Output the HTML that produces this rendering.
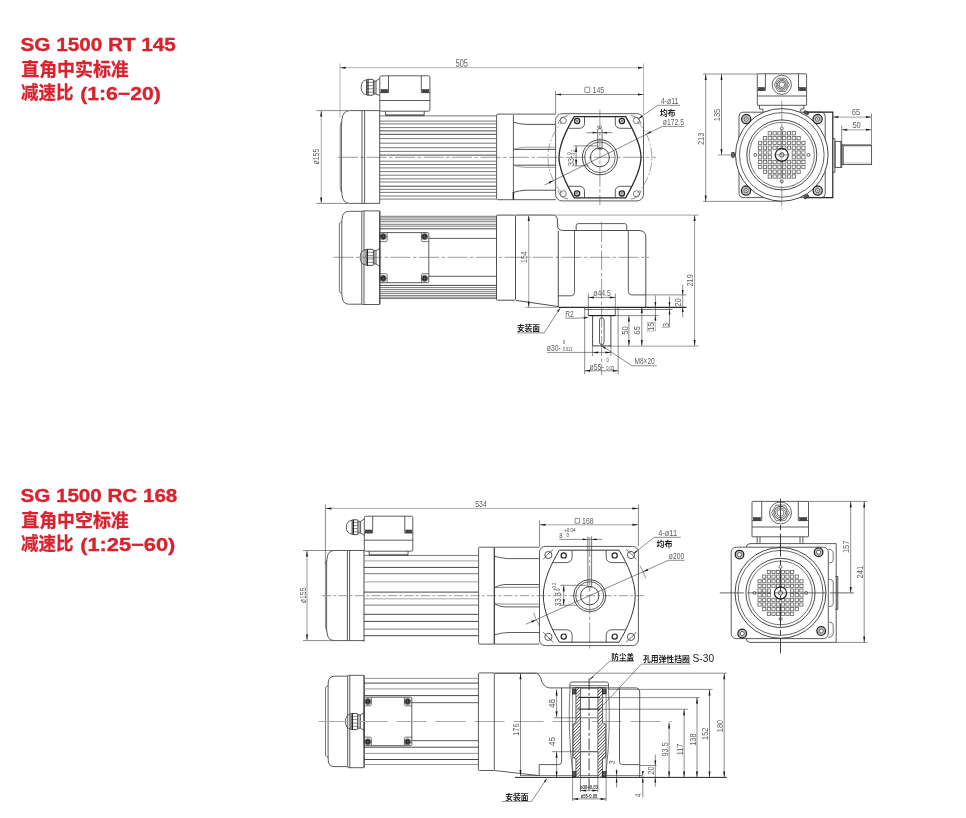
<!DOCTYPE html>
<html><head><meta charset="utf-8"><title>SG 1500</title>
<style>
html,body{margin:0;padding:0;background:#fff;}
body{width:966px;height:818px;overflow:hidden;font-family:"Liberation Sans",sans-serif;}
svg{display:block;font-family:"Liberation Sans",sans-serif;}
</style></head><body>
<svg width="966" height="818" viewBox="0 0 966 818">
<rect width="966" height="818" fill="#fff"/>
<g opacity="0.999">
<text x="20.5" y="50.699999999999996" font-size="19" font-weight="bold" fill="#d8232f" textLength="155.4" lengthAdjust="spacingAndGlyphs" stroke="#d8232f" stroke-width="0.35">SG 1500 RT 145</text>
<text x="21.3" y="75.6" font-size="18" font-weight="bold" fill="#d8232f" stroke="#d8232f" stroke-width="0.3" textLength="107.4" lengthAdjust="spacingAndGlyphs" font-family="&quot;Liberation Sans&quot;, &quot;Noto Sans CJK SC&quot;, sans-serif">直角中实标准</text>
<text x="21" y="99.4" font-size="18" font-weight="bold" fill="#d8232f" stroke="#d8232f" stroke-width="0.3" textLength="52.4" lengthAdjust="spacingAndGlyphs" font-family="&quot;Liberation Sans&quot;, &quot;Noto Sans CJK SC&quot;, sans-serif">减速比</text>
<text x="80.2" y="99.6" font-size="19" font-weight="bold" fill="#d8232f" textLength="80.6" lengthAdjust="spacingAndGlyphs" stroke="#d8232f" stroke-width="0.35">(1:6−20)</text>
<line x1="340" y1="63.5" x2="340" y2="118" stroke="#b4b4b4" stroke-width="1"/>
<line x1="643.6" y1="63.5" x2="643.6" y2="114" stroke="#b4b4b4" stroke-width="1"/>
<line x1="340" y1="67.7" x2="643.6" y2="67.7" stroke="#b4b4b4" stroke-width="1"/>
<path d="M340,67.7L345.6,66.7L345.6,68.7Z" fill="#111"/>
<path d="M643.6,67.7L638,68.7L638,66.7Z" fill="#111"/>
<text transform="translate(461.8,66.9) scale(0.68,1)" font-size="10.8" text-anchor="middle" fill="#5e5e5e" font-weight="normal">505</text>
<line x1="316.5" y1="110.6" x2="348" y2="110.6" stroke="#3e3e3e" stroke-width="0.6"/>
<line x1="316.5" y1="203.4" x2="348" y2="203.4" stroke="#3e3e3e" stroke-width="0.6"/>
<line x1="321.2" y1="110.6" x2="321.2" y2="203.4" stroke="#aaa" stroke-width="1"/>
<path d="M321.2,110.6L322.2,116.6L320.2,116.6Z" fill="#1a1a1a"/>
<path d="M321.2,203.4L320.2,197.4L322.2,197.4Z" fill="#1a1a1a"/>
<text transform="translate(319.4,156.6) rotate(-90) scale(0.8,1)" font-size="8.7" text-anchor="middle" fill="#5e5e5e" font-weight="normal">ø155</text>
<path d="M362,110.6 L349.5,110.6 Q342.6,111.2 342,119 L341.4,126 L341.4,188 L342,195 Q342.6,202.8 349.5,203.4 L362,203.4" stroke="#3e3e3e" stroke-width="0.85" fill="none"/>
<path d="M341.4,122 Q340.2,124 340.2,128 L340.2,186 Q340.2,190 341.4,192" stroke="#3e3e3e" stroke-width="0.6" fill="none"/>
<line x1="362" y1="110.6" x2="362" y2="203.4" stroke="#3e3e3e" stroke-width="0.85"/>
<line x1="364.6" y1="110.6" x2="364.6" y2="203.4" stroke="#3e3e3e" stroke-width="0.85"/>
<path d="M362,110.6 L379.7,110.6 M362,203.4 L379.7,203.4" stroke="#3e3e3e" stroke-width="0.85" fill="none"/>
<line x1="379.7" y1="110.6" x2="379.7" y2="203.4" stroke="#3e3e3e" stroke-width="0.9"/>
<line x1="379.7" y1="115.9" x2="496.5" y2="115.9" stroke="#6a6a6a" stroke-width="0.9"/>
<line x1="379.7" y1="121.1" x2="496.5" y2="121.1" stroke="#6a6a6a" stroke-width="0.9"/>
<line x1="379.7" y1="123.9" x2="496.5" y2="123.9" stroke="#6a6a6a" stroke-width="0.9"/>
<line x1="379.7" y1="127.6" x2="496.5" y2="127.6" stroke="#6a6a6a" stroke-width="0.9"/>
<line x1="379.7" y1="138.6" x2="496.5" y2="138.6" stroke="#6a6a6a" stroke-width="0.9"/>
<line x1="379.7" y1="143.2" x2="496.5" y2="143.2" stroke="#6a6a6a" stroke-width="0.9"/>
<line x1="379.7" y1="147.7" x2="496.5" y2="147.7" stroke="#6a6a6a" stroke-width="0.9"/>
<line x1="379.7" y1="151.4" x2="496.5" y2="151.4" stroke="#6a6a6a" stroke-width="0.9"/>
<line x1="379.7" y1="161.2" x2="496.5" y2="161.2" stroke="#6a6a6a" stroke-width="0.9"/>
<line x1="379.7" y1="164.5" x2="496.5" y2="164.5" stroke="#6a6a6a" stroke-width="0.9"/>
<line x1="379.7" y1="167.9" x2="496.5" y2="167.9" stroke="#6a6a6a" stroke-width="0.9"/>
<line x1="379.7" y1="171.6" x2="496.5" y2="171.6" stroke="#6a6a6a" stroke-width="0.9"/>
<line x1="379.7" y1="175.2" x2="496.5" y2="175.2" stroke="#6a6a6a" stroke-width="0.9"/>
<line x1="379.7" y1="178.9" x2="496.5" y2="178.9" stroke="#6a6a6a" stroke-width="0.9"/>
<line x1="379.7" y1="182" x2="496.5" y2="182" stroke="#6a6a6a" stroke-width="0.9"/>
<line x1="379.7" y1="189.3" x2="496.5" y2="189.3" stroke="#6a6a6a" stroke-width="0.9"/>
<line x1="379.7" y1="192.4" x2="496.5" y2="192.4" stroke="#6a6a6a" stroke-width="0.9"/>
<line x1="379.7" y1="196" x2="496.5" y2="196" stroke="#6a6a6a" stroke-width="0.9"/>
<line x1="379.7" y1="199.1" x2="496.5" y2="199.1" stroke="#6a6a6a" stroke-width="0.9"/>
<line x1="379.7" y1="130.9" x2="496.5" y2="130.9" stroke="#333" stroke-width="0.9"/>
<line x1="379.7" y1="134.3" x2="496.5" y2="134.3" stroke="#333" stroke-width="0.9"/>
<line x1="379.7" y1="155.1" x2="496.5" y2="155.1" stroke="#333" stroke-width="0.9"/>
<line x1="379.7" y1="186.2" x2="496.5" y2="186.2" stroke="#333" stroke-width="0.9"/>
<rect x="379.8" y="75.8" width="50.1" height="35.4" rx="1.5" stroke="#3e3e3e" stroke-width="0.85" fill="none"/>
<line x1="379.8" y1="100.5" x2="429.9" y2="100.5" stroke="#3e3e3e" stroke-width="0.85"/>
<line x1="388.5" y1="75.8" x2="388.5" y2="92.6" stroke="#3e3e3e" stroke-width="0.85"/>
<line x1="421.3" y1="75.8" x2="421.3" y2="92.6" stroke="#3e3e3e" stroke-width="0.85"/>
<line x1="380" y1="92.6" x2="388.5" y2="92.6" stroke="#3e3e3e" stroke-width="0.85"/>
<line x1="421.3" y1="92.6" x2="429.9" y2="92.6" stroke="#3e3e3e" stroke-width="0.85"/>
<rect x="381" y="89.6" width="6.6" height="2.8" rx="0" stroke="#333" stroke-width="0.6" fill="#444"/>
<rect x="422.2" y="89.6" width="6.6" height="2.8" rx="0" stroke="#333" stroke-width="0.6" fill="#444"/>
<path d="M385.6,111.2 L385.6,115.6 L424.2,115.6 L424.2,111.2" stroke="#3e3e3e" stroke-width="0.85" fill="none"/>
<line x1="385.6" y1="114.6" x2="424.2" y2="114.6" stroke="#3e3e3e" stroke-width="0.6"/>
<path d="M366.6,79.8 Q361.2,80.5 361.2,87.2 Q361.2,94 366.6,94.8" stroke="#3e3e3e" stroke-width="0.85" fill="none"/>
<rect x="366.6" y="79.4" width="6.8" height="15.8" rx="0.8" stroke="#333" stroke-width="0.9" fill="none"/>
<line x1="366.6" y1="82.4" x2="373.4" y2="82.4" stroke="#3e3e3e" stroke-width="0.6"/>
<line x1="366.6" y1="85.6" x2="373.4" y2="85.6" stroke="#3e3e3e" stroke-width="0.6"/>
<line x1="366.6" y1="88.8" x2="373.4" y2="88.8" stroke="#3e3e3e" stroke-width="0.6"/>
<line x1="366.6" y1="92.2" x2="373.4" y2="92.2" stroke="#3e3e3e" stroke-width="0.6"/>
<line x1="368" y1="79.4" x2="368" y2="95.2" stroke="#222" stroke-width="1.2"/>
<path d="M373.4,81 L376,81 L379.8,78.5 M373.4,94 L376,94 L379.8,95.5" stroke="#3e3e3e" stroke-width="0.85" fill="none"/>
<line x1="376" y1="81" x2="376" y2="94" stroke="#3e3e3e" stroke-width="0.85"/>
<line x1="374.6" y1="81" x2="374.6" y2="94" stroke="#3e3e3e" stroke-width="0.6"/>
<line x1="338" y1="157.3" x2="656" y2="157.3" stroke="#555" stroke-width="0.6" stroke-dasharray="20 2.5 3.5 2.5"/>
<rect x="496.6" y="114.1" width="16.8" height="85.6" rx="1" stroke="#3e3e3e" stroke-width="0.85" fill="none"/>
<line x1="513.4" y1="114.1" x2="555.7" y2="114.1" stroke="#3e3e3e" stroke-width="0.85"/>
<line x1="513.4" y1="199.7" x2="555.7" y2="199.7" stroke="#3e3e3e" stroke-width="0.85"/>
<path d="M513.4,122.2 Q519,124 526,124.4 L555.7,124.4" stroke="#3e3e3e" stroke-width="0.9" fill="none"/>
<path d="M513.4,192.4 Q519,190.6 526,190.2 L555.7,190.2" stroke="#3e3e3e" stroke-width="0.9" fill="none"/>
<line x1="513.4" y1="149.4" x2="555.7" y2="149.4" stroke="#3a3a3a" stroke-width="0.9"/>
<path d="M513.4,149.4 Q519,147.4 526,147.2 L555.7,147.2" stroke="#777" stroke-width="0.7" fill="none"/>
<line x1="513.4" y1="165.2" x2="555.7" y2="165.2" stroke="#3a3a3a" stroke-width="0.9"/>
<path d="M513.4,165.2 Q519,167.2 526,167.4 L555.7,167.4" stroke="#777" stroke-width="0.7" fill="none"/>
<line x1="513.4" y1="192" x2="513.4" y2="199.7" stroke="#222" stroke-width="1.4"/>
<rect x="555.6" y="113.7" width="87.9" height="87.2" rx="6.5" stroke="#3e3e3e" stroke-width="0.85" fill="none"/>
<path d="M574.2,116.7 L625.6,116.7 C634,131 641,145 641,157.3 C641,169.6 634,183.5 625.6,197.9 L574.2,197.9 C565.8,183.5 559,169.6 559,157.3 C559,145 565.8,131 574.2,116.7 Z" stroke="#2a2a2a" stroke-width="1.3" fill="none"/>
<path d="M584.5,116.7 L584.5,123.5 Q584.3,128.2 579.5,128.3 L568.3,128.3" stroke="#3e3e3e" stroke-width="0.85" fill="none"/>
<path d="M615.3,116.7 L615.3,123.5 Q615.5,128.2 620.3,128.3 L631.5,128.3" stroke="#3e3e3e" stroke-width="0.85" fill="none"/>
<path d="M584.5,197.9 L584.5,191.1 Q584.3,186.4 579.5,186.3 L568.3,186.3" stroke="#3e3e3e" stroke-width="0.85" fill="none"/>
<path d="M615.3,197.9 L615.3,191.1 Q615.5,186.4 620.3,186.3 L631.5,186.3" stroke="#3e3e3e" stroke-width="0.85" fill="none"/>
<circle cx="577.1" cy="121" r="2.6" stroke="#222" stroke-width="1.3" fill="none"/>
<circle cx="577.1" cy="121" r="0.9" stroke="#333" stroke-width="0.7" fill="none"/>
<circle cx="621.9" cy="121" r="2.6" stroke="#222" stroke-width="1.3" fill="none"/>
<circle cx="621.9" cy="121" r="0.9" stroke="#333" stroke-width="0.7" fill="none"/>
<circle cx="577.1" cy="193.4" r="2.6" stroke="#222" stroke-width="1.3" fill="none"/>
<circle cx="577.1" cy="193.4" r="0.9" stroke="#333" stroke-width="0.7" fill="none"/>
<circle cx="621.9" cy="193.4" r="2.6" stroke="#222" stroke-width="1.3" fill="none"/>
<circle cx="621.9" cy="193.4" r="0.9" stroke="#333" stroke-width="0.7" fill="none"/>
<circle cx="563.2" cy="120.5" r="3.1" stroke="#3e3e3e" stroke-width="0.7" fill="none"/>
<circle cx="636.4" cy="120.5" r="3.1" stroke="#3e3e3e" stroke-width="0.7" fill="none"/>
<circle cx="563.2" cy="193.8" r="3.1" stroke="#3e3e3e" stroke-width="0.7" fill="none"/>
<circle cx="636.4" cy="193.8" r="3.1" stroke="#3e3e3e" stroke-width="0.7" fill="none"/>
<path d="M558,124 Q560,116.5 568,115.6" stroke="#3e3e3e" stroke-width="0.6" fill="none"/>
<path d="M641.2,124 Q639,116.5 631,115.6" stroke="#3e3e3e" stroke-width="0.6" fill="none"/>
<path d="M558,190.5 Q560,198 568,199" stroke="#3e3e3e" stroke-width="0.6" fill="none"/>
<path d="M641.2,190.5 Q639,198 631,199" stroke="#3e3e3e" stroke-width="0.6" fill="none"/>
<circle cx="599.9" cy="157.3" r="17.5" stroke="#333" stroke-width="0.9" fill="none"/>
<circle cx="599.9" cy="157.3" r="15.3" stroke="#3e3e3e" stroke-width="0.8" fill="none"/>
<circle cx="599.9" cy="157.3" r="9.5" stroke="#333" stroke-width="0.9" fill="none"/>
<path d="M597.7,148.2 L597.7,129.5 Q599.9,127 602.1,129.5 L602.1,148.2" stroke="#3e3e3e" stroke-width="0.7" fill="none"/>
<line x1="597.7" y1="148.8" x2="602.1" y2="148.8" stroke="#333" stroke-width="1.2"/>
<line x1="586.4" y1="132.7" x2="612.6" y2="132.7" stroke="#3e3e3e" stroke-width="0.6"/>
<path d="M597.7,132.7L592.7,133.6L592.7,131.8Z" fill="#1a1a1a"/>
<path d="M602.1,132.7L607.1,131.8L607.1,133.6Z" fill="#1a1a1a"/>
<text transform="translate(601.6,128.5) rotate(-90) scale(0.87,1)" font-size="6.5" text-anchor="start" fill="#5e5e5e" font-weight="normal">8</text>
<path d="M637.23,121.25 A51.9,51.9 0 0 1 637.23,193.35" stroke="#666" stroke-width="0.6" fill="none" stroke-dasharray="9 2 2 2"/>
<path d="M562.57,193.35 A51.9,51.9 0 0 1 562.57,121.25" stroke="#666" stroke-width="0.6" fill="none" stroke-dasharray="9 2 2 2"/>
<line x1="599.9" y1="109.5" x2="599.9" y2="205" stroke="#555" stroke-width="0.6" stroke-dasharray="20 2.5 3.5 2.5"/>
<line x1="544.5" y1="185" x2="662.3" y2="126.4" stroke="#3e3e3e" stroke-width="0.6"/>
<line x1="662.3" y1="126.4" x2="684.4" y2="126.4" stroke="#3e3e3e" stroke-width="0.6"/>
<path d="M646.3,134.1L650.32,130.97L651.22,132.76Z" fill="#1a1a1a"/>
<path d="M553.5,180.5L549.48,183.63L548.58,181.84Z" fill="#1a1a1a"/>
<text transform="translate(673.4,125.3) scale(0.78,1)" font-size="8.8" text-anchor="middle" fill="#5e5e5e" font-weight="normal">ø172.5</text>
<line x1="638.6" y1="118.6" x2="657.9" y2="105.3" stroke="#3e3e3e" stroke-width="0.6"/>
<line x1="657.9" y1="105.3" x2="680" y2="105.3" stroke="#3e3e3e" stroke-width="0.6"/>
<path d="M638.4,118.8L641.65,115.59L642.56,116.9Z" fill="#1a1a1a"/>
<text transform="translate(669.6,104.3) scale(0.8,1)" font-size="8.8" text-anchor="middle" fill="#5e5e5e" font-weight="normal">4-ø11</text>
<text x="659.9" y="116.2" font-size="7.8" font-weight="bold" fill="#1a1a1a" textLength="15.6" lengthAdjust="spacingAndGlyphs" font-family="&quot;Liberation Sans&quot;, &quot;Noto Sans CJK SC&quot;, sans-serif">均布</text>
<line x1="555.6" y1="91" x2="555.6" y2="113.7" stroke="#3e3e3e" stroke-width="0.6"/>
<line x1="555.6" y1="94.5" x2="643.5" y2="94.5" stroke="#3e3e3e" stroke-width="0.6"/>
<path d="M555.6,94.5L561.1,93.5L561.1,95.5Z" fill="#1a1a1a"/>
<path d="M643.5,94.5L638,95.5L638,93.5Z" fill="#1a1a1a"/>
<rect x="584.8" y="87.2" width="5" height="5.2" rx="0.5" stroke="#3e3e3e" stroke-width="0.6" fill="none"/>
<text transform="translate(598.4,92.5) scale(0.85,1)" font-size="8.2" text-anchor="middle" fill="#5e5e5e" font-weight="normal">145</text>
<line x1="573.4" y1="145.9" x2="598.4" y2="145.9" stroke="#3e3e3e" stroke-width="0.6"/>
<line x1="573.4" y1="165.8" x2="588.4" y2="165.8" stroke="#3e3e3e" stroke-width="0.6"/>
<line x1="576.1" y1="145.9" x2="576.1" y2="165.8" stroke="#3e3e3e" stroke-width="0.6"/>
<path d="M576.1,145.9L577.1,151.9L575.1,151.9Z" fill="#1a1a1a"/>
<path d="M576.1,165.8L575.1,159.8L577.1,159.8Z" fill="#1a1a1a"/>
<text transform="translate(574.2,165.9) rotate(-90) scale(0.85,1)" font-size="8.4" text-anchor="start" fill="#666" font-weight="normal">33-</text>
<text transform="translate(570.6,154.8) rotate(-90) scale(0.85,1)" font-size="5" text-anchor="start" fill="#555" font-weight="normal">0</text>
<text transform="translate(574.6,155.6) rotate(-90) scale(0.85,1)" font-size="5" text-anchor="start" fill="#555" font-weight="normal">0.2</text>
<line x1="703" y1="74" x2="757.3" y2="74" stroke="#3e3e3e" stroke-width="0.6"/>
<line x1="703" y1="201.4" x2="781.8" y2="201.4" stroke="#3e3e3e" stroke-width="0.6"/>
<line x1="705.7" y1="74" x2="705.7" y2="201.4" stroke="#3e3e3e" stroke-width="0.6"/>
<path d="M705.7,74L706.7,80L704.7,80Z" fill="#1a1a1a"/>
<path d="M705.7,201.4L704.7,195.4L706.7,195.4Z" fill="#1a1a1a"/>
<text transform="translate(703.8,138.8) rotate(-90) scale(0.87,1)" font-size="8.7" text-anchor="middle" fill="#5e5e5e" font-weight="normal">213</text>
<line x1="721.5" y1="74" x2="721.5" y2="154.9" stroke="#3e3e3e" stroke-width="0.6"/>
<path d="M721.5,74L722.5,80L720.5,80Z" fill="#1a1a1a"/>
<path d="M721.5,154.9L720.5,148.9L722.5,148.9Z" fill="#1a1a1a"/>
<line x1="718" y1="154.9" x2="760" y2="154.9" stroke="#555" stroke-width="0.6" stroke-dasharray="20 2.5 3.5 2.5"/>
<text transform="translate(719.6,115) rotate(-90) scale(0.87,1)" font-size="8.7" text-anchor="middle" fill="#5e5e5e" font-weight="normal">135</text>
<rect x="757.3" y="73.8" width="49.3" height="31.5" rx="0.5" stroke="#3e3e3e" stroke-width="0.85" fill="none"/>
<line x1="757.3" y1="96" x2="806.6" y2="96" stroke="#3e3e3e" stroke-width="0.85"/>
<line x1="765.4" y1="73.8" x2="765.4" y2="90.4" stroke="#3e3e3e" stroke-width="0.85"/>
<line x1="798.5" y1="73.8" x2="798.5" y2="90.4" stroke="#3e3e3e" stroke-width="0.85"/>
<line x1="757.3" y1="90.4" x2="765.4" y2="90.4" stroke="#3e3e3e" stroke-width="0.85"/>
<line x1="798.5" y1="90.4" x2="806.6" y2="90.4" stroke="#3e3e3e" stroke-width="0.85"/>
<rect x="758.4" y="87.6" width="6" height="2.6" rx="0" stroke="#333" stroke-width="0.6" fill="#444"/>
<rect x="799.5" y="87.6" width="6" height="2.6" rx="0" stroke="#333" stroke-width="0.6" fill="#444"/>
<path d="M759.5,105.3 L759.5,109 L762.9,109 L762.9,111.8 M803.9,105.3 L803.9,109 L800.8,109 L800.8,111.8" stroke="#3e3e3e" stroke-width="0.85" fill="none"/>
<circle cx="781.8" cy="84.8" r="9.6" stroke="#3e3e3e" stroke-width="0.8" fill="none"/>
<polygon points="789.4,84.8 785.6,91.38 778,91.38 774.2,84.8 778,78.22 785.6,78.22" fill="none" stroke="#3e3e3e" stroke-width="0.7"/>
<circle cx="781.8" cy="84.8" r="5.6" stroke="#3e3e3e" stroke-width="0.7" fill="none"/>
<circle cx="781.8" cy="84.8" r="4.2" stroke="#333" stroke-width="0.9" fill="none"/>
<circle cx="781.8" cy="84.8" r="2.8" stroke="#3e3e3e" stroke-width="0.7" fill="none"/>
<path d="M806.6,112.2 L832.8,112.2 L832.8,197.6 L806.6,197.6" stroke="#222" stroke-width="1.2" fill="none"/>
<rect x="739" y="112.2" width="86.2" height="85.4" rx="4" stroke="#3e3e3e" stroke-width="0.85" fill="none"/>
<circle cx="781.8" cy="154.9" r="46.3" stroke="#333" stroke-width="0.9" fill="#fff"/>
<circle cx="781.8" cy="154.9" r="42.3" stroke="#3e3e3e" stroke-width="0.8" fill="none"/>
<circle cx="781.8" cy="154.9" r="35" stroke="#333" stroke-width="0.9" fill="none"/>
<circle cx="781.8" cy="154.9" r="32.6" stroke="#3e3e3e" stroke-width="0.7" fill="none"/>
<rect x="768.15" y="131.65" width="3.3" height="3.3" rx="0" stroke="#606060" stroke-width="0.8" fill="none"/>
<rect x="772.95" y="131.65" width="3.3" height="3.3" rx="0" stroke="#606060" stroke-width="0.8" fill="none"/>
<rect x="777.75" y="131.65" width="3.3" height="3.3" rx="0" stroke="#606060" stroke-width="0.8" fill="none"/>
<rect x="782.55" y="131.65" width="3.3" height="3.3" rx="0" stroke="#606060" stroke-width="0.8" fill="none"/>
<rect x="787.35" y="131.65" width="3.3" height="3.3" rx="0" stroke="#606060" stroke-width="0.8" fill="none"/>
<rect x="792.15" y="131.65" width="3.3" height="3.3" rx="0" stroke="#606060" stroke-width="0.8" fill="none"/>
<rect x="763.35" y="136.45" width="3.3" height="3.3" rx="0" stroke="#606060" stroke-width="0.8" fill="none"/>
<rect x="768.15" y="136.45" width="3.3" height="3.3" rx="0" stroke="#606060" stroke-width="0.8" fill="none"/>
<rect x="772.95" y="136.45" width="3.3" height="3.3" rx="0" stroke="#606060" stroke-width="0.8" fill="none"/>
<rect x="777.75" y="136.45" width="3.3" height="3.3" rx="0" stroke="#606060" stroke-width="0.8" fill="none"/>
<rect x="782.55" y="136.45" width="3.3" height="3.3" rx="0" stroke="#606060" stroke-width="0.8" fill="none"/>
<rect x="787.35" y="136.45" width="3.3" height="3.3" rx="0" stroke="#606060" stroke-width="0.8" fill="none"/>
<rect x="792.15" y="136.45" width="3.3" height="3.3" rx="0" stroke="#606060" stroke-width="0.8" fill="none"/>
<rect x="796.95" y="136.45" width="3.3" height="3.3" rx="0" stroke="#606060" stroke-width="0.8" fill="none"/>
<rect x="758.55" y="141.25" width="3.3" height="3.3" rx="0" stroke="#606060" stroke-width="0.8" fill="none"/>
<rect x="763.35" y="141.25" width="3.3" height="3.3" rx="0" stroke="#606060" stroke-width="0.8" fill="none"/>
<rect x="768.15" y="141.25" width="3.3" height="3.3" rx="0" stroke="#606060" stroke-width="0.8" fill="none"/>
<rect x="772.95" y="141.25" width="3.3" height="3.3" rx="0" stroke="#606060" stroke-width="0.8" fill="none"/>
<rect x="777.75" y="141.25" width="3.3" height="3.3" rx="0" stroke="#606060" stroke-width="0.8" fill="none"/>
<rect x="782.55" y="141.25" width="3.3" height="3.3" rx="0" stroke="#606060" stroke-width="0.8" fill="none"/>
<rect x="787.35" y="141.25" width="3.3" height="3.3" rx="0" stroke="#606060" stroke-width="0.8" fill="none"/>
<rect x="792.15" y="141.25" width="3.3" height="3.3" rx="0" stroke="#606060" stroke-width="0.8" fill="none"/>
<rect x="796.95" y="141.25" width="3.3" height="3.3" rx="0" stroke="#606060" stroke-width="0.8" fill="none"/>
<rect x="801.75" y="141.25" width="3.3" height="3.3" rx="0" stroke="#606060" stroke-width="0.8" fill="none"/>
<rect x="758.55" y="146.05" width="3.3" height="3.3" rx="0" stroke="#606060" stroke-width="0.8" fill="none"/>
<rect x="763.35" y="146.05" width="3.3" height="3.3" rx="0" stroke="#606060" stroke-width="0.8" fill="none"/>
<rect x="768.15" y="146.05" width="3.3" height="3.3" rx="0" stroke="#606060" stroke-width="0.8" fill="none"/>
<rect x="772.95" y="146.05" width="3.3" height="3.3" rx="0" stroke="#606060" stroke-width="0.8" fill="none"/>
<rect x="777.75" y="146.05" width="3.3" height="3.3" rx="0" stroke="#606060" stroke-width="0.8" fill="none"/>
<rect x="782.55" y="146.05" width="3.3" height="3.3" rx="0" stroke="#606060" stroke-width="0.8" fill="none"/>
<rect x="787.35" y="146.05" width="3.3" height="3.3" rx="0" stroke="#606060" stroke-width="0.8" fill="none"/>
<rect x="792.15" y="146.05" width="3.3" height="3.3" rx="0" stroke="#606060" stroke-width="0.8" fill="none"/>
<rect x="796.95" y="146.05" width="3.3" height="3.3" rx="0" stroke="#606060" stroke-width="0.8" fill="none"/>
<rect x="801.75" y="146.05" width="3.3" height="3.3" rx="0" stroke="#606060" stroke-width="0.8" fill="none"/>
<rect x="758.55" y="150.85" width="3.3" height="3.3" rx="0" stroke="#606060" stroke-width="0.8" fill="none"/>
<rect x="763.35" y="150.85" width="3.3" height="3.3" rx="0" stroke="#606060" stroke-width="0.8" fill="none"/>
<rect x="768.15" y="150.85" width="3.3" height="3.3" rx="0" stroke="#606060" stroke-width="0.8" fill="none"/>
<rect x="792.15" y="150.85" width="3.3" height="3.3" rx="0" stroke="#606060" stroke-width="0.8" fill="none"/>
<rect x="796.95" y="150.85" width="3.3" height="3.3" rx="0" stroke="#606060" stroke-width="0.8" fill="none"/>
<rect x="801.75" y="150.85" width="3.3" height="3.3" rx="0" stroke="#606060" stroke-width="0.8" fill="none"/>
<rect x="758.55" y="155.65" width="3.3" height="3.3" rx="0" stroke="#606060" stroke-width="0.8" fill="none"/>
<rect x="763.35" y="155.65" width="3.3" height="3.3" rx="0" stroke="#606060" stroke-width="0.8" fill="none"/>
<rect x="768.15" y="155.65" width="3.3" height="3.3" rx="0" stroke="#606060" stroke-width="0.8" fill="none"/>
<rect x="792.15" y="155.65" width="3.3" height="3.3" rx="0" stroke="#606060" stroke-width="0.8" fill="none"/>
<rect x="796.95" y="155.65" width="3.3" height="3.3" rx="0" stroke="#606060" stroke-width="0.8" fill="none"/>
<rect x="801.75" y="155.65" width="3.3" height="3.3" rx="0" stroke="#606060" stroke-width="0.8" fill="none"/>
<rect x="758.55" y="160.45" width="3.3" height="3.3" rx="0" stroke="#606060" stroke-width="0.8" fill="none"/>
<rect x="763.35" y="160.45" width="3.3" height="3.3" rx="0" stroke="#606060" stroke-width="0.8" fill="none"/>
<rect x="768.15" y="160.45" width="3.3" height="3.3" rx="0" stroke="#606060" stroke-width="0.8" fill="none"/>
<rect x="772.95" y="160.45" width="3.3" height="3.3" rx="0" stroke="#606060" stroke-width="0.8" fill="none"/>
<rect x="777.75" y="160.45" width="3.3" height="3.3" rx="0" stroke="#606060" stroke-width="0.8" fill="none"/>
<rect x="782.55" y="160.45" width="3.3" height="3.3" rx="0" stroke="#606060" stroke-width="0.8" fill="none"/>
<rect x="787.35" y="160.45" width="3.3" height="3.3" rx="0" stroke="#606060" stroke-width="0.8" fill="none"/>
<rect x="792.15" y="160.45" width="3.3" height="3.3" rx="0" stroke="#606060" stroke-width="0.8" fill="none"/>
<rect x="796.95" y="160.45" width="3.3" height="3.3" rx="0" stroke="#606060" stroke-width="0.8" fill="none"/>
<rect x="801.75" y="160.45" width="3.3" height="3.3" rx="0" stroke="#606060" stroke-width="0.8" fill="none"/>
<rect x="758.55" y="165.25" width="3.3" height="3.3" rx="0" stroke="#606060" stroke-width="0.8" fill="none"/>
<rect x="763.35" y="165.25" width="3.3" height="3.3" rx="0" stroke="#606060" stroke-width="0.8" fill="none"/>
<rect x="768.15" y="165.25" width="3.3" height="3.3" rx="0" stroke="#606060" stroke-width="0.8" fill="none"/>
<rect x="772.95" y="165.25" width="3.3" height="3.3" rx="0" stroke="#606060" stroke-width="0.8" fill="none"/>
<rect x="777.75" y="165.25" width="3.3" height="3.3" rx="0" stroke="#606060" stroke-width="0.8" fill="none"/>
<rect x="782.55" y="165.25" width="3.3" height="3.3" rx="0" stroke="#606060" stroke-width="0.8" fill="none"/>
<rect x="787.35" y="165.25" width="3.3" height="3.3" rx="0" stroke="#606060" stroke-width="0.8" fill="none"/>
<rect x="792.15" y="165.25" width="3.3" height="3.3" rx="0" stroke="#606060" stroke-width="0.8" fill="none"/>
<rect x="796.95" y="165.25" width="3.3" height="3.3" rx="0" stroke="#606060" stroke-width="0.8" fill="none"/>
<rect x="801.75" y="165.25" width="3.3" height="3.3" rx="0" stroke="#606060" stroke-width="0.8" fill="none"/>
<rect x="763.35" y="170.05" width="3.3" height="3.3" rx="0" stroke="#606060" stroke-width="0.8" fill="none"/>
<rect x="768.15" y="170.05" width="3.3" height="3.3" rx="0" stroke="#606060" stroke-width="0.8" fill="none"/>
<rect x="772.95" y="170.05" width="3.3" height="3.3" rx="0" stroke="#606060" stroke-width="0.8" fill="none"/>
<rect x="777.75" y="170.05" width="3.3" height="3.3" rx="0" stroke="#606060" stroke-width="0.8" fill="none"/>
<rect x="782.55" y="170.05" width="3.3" height="3.3" rx="0" stroke="#606060" stroke-width="0.8" fill="none"/>
<rect x="787.35" y="170.05" width="3.3" height="3.3" rx="0" stroke="#606060" stroke-width="0.8" fill="none"/>
<rect x="792.15" y="170.05" width="3.3" height="3.3" rx="0" stroke="#606060" stroke-width="0.8" fill="none"/>
<rect x="796.95" y="170.05" width="3.3" height="3.3" rx="0" stroke="#606060" stroke-width="0.8" fill="none"/>
<rect x="768.15" y="174.85" width="3.3" height="3.3" rx="0" stroke="#606060" stroke-width="0.8" fill="none"/>
<rect x="772.95" y="174.85" width="3.3" height="3.3" rx="0" stroke="#606060" stroke-width="0.8" fill="none"/>
<rect x="777.75" y="174.85" width="3.3" height="3.3" rx="0" stroke="#606060" stroke-width="0.8" fill="none"/>
<rect x="782.55" y="174.85" width="3.3" height="3.3" rx="0" stroke="#606060" stroke-width="0.8" fill="none"/>
<rect x="787.35" y="174.85" width="3.3" height="3.3" rx="0" stroke="#606060" stroke-width="0.8" fill="none"/>
<rect x="792.15" y="174.85" width="3.3" height="3.3" rx="0" stroke="#606060" stroke-width="0.8" fill="none"/>
<circle cx="781.8" cy="154.9" r="6.5" stroke="#222" stroke-width="1.2" fill="none"/>
<circle cx="781.8" cy="154.9" r="2.2" stroke="#222" stroke-width="0.8" fill="none"/>
<circle cx="781.8" cy="128.5" r="1.5" stroke="#333" stroke-width="0.7" fill="none"/>
<circle cx="781.8" cy="181.3" r="1.5" stroke="#333" stroke-width="0.7" fill="none"/>
<circle cx="755.3" cy="154.9" r="1.5" stroke="#333" stroke-width="0.7" fill="none"/>
<circle cx="808.5" cy="154.9" r="1.5" stroke="#333" stroke-width="0.7" fill="none"/>
<line x1="781.8" y1="100.7" x2="781.8" y2="209.5" stroke="#555" stroke-width="0.6" stroke-dasharray="20 2.5 3.5 2.5"/>
<line x1="773.8" y1="154.9" x2="789.8" y2="154.9" stroke="#555" stroke-width="0.6"/>
<circle cx="746.2" cy="119.1" r="4.6" stroke="#222" stroke-width="1.3" fill="none"/>
<circle cx="746.2" cy="119.1" r="3.4" stroke="#666" stroke-width="0.5" fill="none"/>
<circle cx="746.2" cy="119.1" r="2.2" stroke="#333" stroke-width="0.8" fill="none"/>
<line x1="745" y1="119.1" x2="747.4" y2="119.1" stroke="#3e3e3e" stroke-width="0.5"/>
<line x1="746.2" y1="117.9" x2="746.2" y2="120.3" stroke="#3e3e3e" stroke-width="0.5"/>
<circle cx="817.6" cy="119.1" r="4.6" stroke="#222" stroke-width="1.3" fill="none"/>
<circle cx="817.6" cy="119.1" r="3.4" stroke="#666" stroke-width="0.5" fill="none"/>
<circle cx="817.6" cy="119.1" r="2.2" stroke="#333" stroke-width="0.8" fill="none"/>
<line x1="816.4" y1="119.1" x2="818.8" y2="119.1" stroke="#3e3e3e" stroke-width="0.5"/>
<line x1="817.6" y1="117.9" x2="817.6" y2="120.3" stroke="#3e3e3e" stroke-width="0.5"/>
<circle cx="746" cy="190.6" r="4.6" stroke="#222" stroke-width="1.3" fill="none"/>
<circle cx="746" cy="190.6" r="3.4" stroke="#666" stroke-width="0.5" fill="none"/>
<circle cx="746" cy="190.6" r="2.2" stroke="#333" stroke-width="0.8" fill="none"/>
<line x1="744.8" y1="190.6" x2="747.2" y2="190.6" stroke="#3e3e3e" stroke-width="0.5"/>
<line x1="746" y1="189.4" x2="746" y2="191.8" stroke="#3e3e3e" stroke-width="0.5"/>
<circle cx="817.7" cy="190.6" r="4.6" stroke="#222" stroke-width="1.3" fill="none"/>
<circle cx="817.7" cy="190.6" r="3.4" stroke="#666" stroke-width="0.5" fill="none"/>
<circle cx="817.7" cy="190.6" r="2.2" stroke="#333" stroke-width="0.8" fill="none"/>
<line x1="816.5" y1="190.6" x2="818.9" y2="190.6" stroke="#3e3e3e" stroke-width="0.5"/>
<line x1="817.7" y1="189.4" x2="817.7" y2="191.8" stroke="#3e3e3e" stroke-width="0.5"/>
<rect x="731.6" y="152.6" width="2.8" height="4.6" rx="0.4" stroke="#222" stroke-width="0.8" fill="#777"/>
<rect x="804" y="111.4" width="4.6" height="2.6" transform="rotate(28 806.3 112.7)" fill="#555" stroke="#222" stroke-width="0.7"/>
<rect x="804" y="195.4" width="4.6" height="2.6" transform="rotate(-28 806.3 196.7)" fill="#555" stroke="#222" stroke-width="0.7"/>
<path d="M832.8,138.6 L834.9,138.6 L834.9,172.3 L832.8,172.3" stroke="#3e3e3e" stroke-width="0.85" fill="none"/>
<rect x="835.1" y="141.6" width="6.6" height="25.8" rx="0" stroke="#3e3e3e" stroke-width="0.85" fill="none"/>
<rect x="841.9" y="144.9" width="29.7" height="19.7" rx="0" stroke="#3e3e3e" stroke-width="0.85" fill="none"/>
<line x1="843.2" y1="144.9" x2="843.2" y2="164.6" stroke="#333" stroke-width="0.9"/>
<line x1="840.8" y1="141.6" x2="840.8" y2="167.4" stroke="#333" stroke-width="0.8"/>
<line x1="841.9" y1="145.6" x2="871.6" y2="145.6" stroke="#444" stroke-width="0.8"/>
<line x1="841.7" y1="146" x2="871.5" y2="146" stroke="#888" stroke-width="0.5"/>
<line x1="841.7" y1="163" x2="871.5" y2="163" stroke="#888" stroke-width="0.5"/>
<line x1="871.5" y1="113.5" x2="871.5" y2="144.1" stroke="#3e3e3e" stroke-width="0.6"/>
<line x1="841.7" y1="125.5" x2="841.7" y2="141.6" stroke="#3e3e3e" stroke-width="0.6"/>
<line x1="832.8" y1="117.1" x2="871.5" y2="117.1" stroke="#888" stroke-width="0.8"/>
<path d="M832.8,117.1L838.3,116.1L838.3,118.1Z" fill="#1a1a1a"/>
<path d="M871.5,117.1L866,118.1L866,116.1Z" fill="#1a1a1a"/>
<line x1="841.7" y1="129.8" x2="871.5" y2="129.8" stroke="#888" stroke-width="0.8"/>
<path d="M841.7,129.8L847.2,128.8L847.2,130.8Z" fill="#1a1a1a"/>
<path d="M871.5,129.8L866,130.8L866,128.8Z" fill="#1a1a1a"/>
<text transform="translate(856,115.2) scale(0.87,1)" font-size="8.7" text-anchor="middle" fill="#5e5e5e" font-weight="normal">65</text>
<text transform="translate(856.6,128.3) scale(0.87,1)" font-size="8.7" text-anchor="middle" fill="#5e5e5e" font-weight="normal">50</text>
<path d="M361.8,211.3 L348.5,211.3 Q342.6,211.8 342.2,218 L341.8,222 L341.8,293.2 L342.2,297.4 Q342.6,303.7 348.5,304.2 L361.8,304.2" stroke="#3e3e3e" stroke-width="0.85" fill="none"/>
<path d="M341.8,221.7 L339.4,223.5 L339.4,291.8 L341.8,293.6" stroke="#3e3e3e" stroke-width="0.7" fill="none"/>
<rect x="361.8" y="210.9" width="18" height="93.6" rx="0.8" stroke="#3e3e3e" stroke-width="0.85" fill="none"/>
<line x1="364" y1="210.9" x2="364" y2="304.5" stroke="#3e3e3e" stroke-width="0.85"/>
<line x1="379.8" y1="210.9" x2="379.8" y2="304.5" stroke="#333" stroke-width="0.9"/>
<line x1="379.8" y1="216.3" x2="496.5" y2="216.3" stroke="#6a6a6a" stroke-width="0.9"/>
<line x1="379.8" y1="217.9" x2="496.5" y2="217.9" stroke="#6a6a6a" stroke-width="0.9"/>
<line x1="379.8" y1="219.8" x2="496.5" y2="219.8" stroke="#6a6a6a" stroke-width="0.9"/>
<line x1="379.8" y1="221.7" x2="496.5" y2="221.7" stroke="#6a6a6a" stroke-width="0.9"/>
<line x1="379.8" y1="224.3" x2="496.5" y2="224.3" stroke="#6a6a6a" stroke-width="0.9"/>
<line x1="379.8" y1="226.2" x2="496.5" y2="226.2" stroke="#6a6a6a" stroke-width="0.9"/>
<line x1="379.8" y1="228.8" x2="496.5" y2="228.8" stroke="#333" stroke-width="0.9"/>
<line x1="379.8" y1="287.6" x2="496.5" y2="287.6" stroke="#6a6a6a" stroke-width="0.9"/>
<line x1="379.8" y1="289.6" x2="496.5" y2="289.6" stroke="#6a6a6a" stroke-width="0.9"/>
<line x1="379.8" y1="291.7" x2="496.5" y2="291.7" stroke="#6a6a6a" stroke-width="0.9"/>
<line x1="379.8" y1="293.6" x2="496.5" y2="293.6" stroke="#6a6a6a" stroke-width="0.9"/>
<line x1="379.8" y1="295.6" x2="496.5" y2="295.6" stroke="#6a6a6a" stroke-width="0.9"/>
<line x1="379.8" y1="297.2" x2="496.5" y2="297.2" stroke="#6a6a6a" stroke-width="0.9"/>
<line x1="379.8" y1="285.4" x2="496.5" y2="285.4" stroke="#333" stroke-width="0.9"/>
<line x1="379.8" y1="298.6" x2="496.5" y2="298.6" stroke="#555" stroke-width="0.8"/>
<rect x="379.8" y="232.6" width="49" height="50.1" rx="1.2" stroke="#3e3e3e" stroke-width="0.85" fill="none"/>
<path d="M387.1,232.6 L387.1,240.4 Q387,241.6 385.8,241.6 L379.8,241.6 M421.4,232.6 L421.4,240.4 Q421.5,241.6 422.7,241.6 L428.8,241.6" stroke="#3e3e3e" stroke-width="0.7" fill="none"/>
<path d="M387.1,282.7 L387.1,274.9 Q387,273.7 385.8,273.7 L379.8,273.7 M421.4,282.7 L421.4,274.9 Q421.5,273.7 422.7,273.7 L428.8,273.7" stroke="#3e3e3e" stroke-width="0.7" fill="none"/>
<circle cx="383.2" cy="236.6" r="3.1" stroke="#333" stroke-width="0.7" fill="none"/>
<circle cx="383.2" cy="236.6" r="2.3" stroke="#111" stroke-width="0.6" fill="#222"/>
<line x1="381.6" y1="236.6" x2="384.8" y2="236.6" stroke="#888" stroke-width="0.4"/>
<line x1="383.2" y1="235" x2="383.2" y2="238.2" stroke="#888" stroke-width="0.4"/>
<circle cx="424.6" cy="236.6" r="3.1" stroke="#333" stroke-width="0.7" fill="none"/>
<circle cx="424.6" cy="236.6" r="2.3" stroke="#111" stroke-width="0.6" fill="#222"/>
<line x1="423" y1="236.6" x2="426.2" y2="236.6" stroke="#888" stroke-width="0.4"/>
<line x1="424.6" y1="235" x2="424.6" y2="238.2" stroke="#888" stroke-width="0.4"/>
<circle cx="383.2" cy="278.4" r="3.1" stroke="#333" stroke-width="0.7" fill="none"/>
<circle cx="383.2" cy="278.4" r="2.3" stroke="#111" stroke-width="0.6" fill="#222"/>
<line x1="381.6" y1="278.4" x2="384.8" y2="278.4" stroke="#888" stroke-width="0.4"/>
<line x1="383.2" y1="276.8" x2="383.2" y2="280" stroke="#888" stroke-width="0.4"/>
<circle cx="424.6" cy="278.4" r="3.1" stroke="#333" stroke-width="0.7" fill="none"/>
<circle cx="424.6" cy="278.4" r="2.3" stroke="#111" stroke-width="0.6" fill="#222"/>
<line x1="423" y1="278.4" x2="426.2" y2="278.4" stroke="#888" stroke-width="0.4"/>
<line x1="424.6" y1="276.8" x2="424.6" y2="280" stroke="#888" stroke-width="0.4"/>
<line x1="428.8" y1="238.4" x2="496.5" y2="238.4" stroke="#3e3e3e" stroke-width="0.85"/>
<line x1="428.8" y1="276.3" x2="496.5" y2="276.3" stroke="#3e3e3e" stroke-width="0.85"/>
<path d="M366,249.5 Q360.2,250.3 360.2,257.3 Q360.2,264.3 366,265.2" stroke="#3e3e3e" stroke-width="0.85" fill="none"/>
<rect x="366" y="249.3" width="7.4" height="16.1" rx="0.8" stroke="#333" stroke-width="0.9" fill="none"/>
<line x1="366" y1="252.4" x2="373.4" y2="252.4" stroke="#3e3e3e" stroke-width="0.6"/>
<line x1="366" y1="255.6" x2="373.4" y2="255.6" stroke="#3e3e3e" stroke-width="0.6"/>
<line x1="366" y1="259" x2="373.4" y2="259" stroke="#3e3e3e" stroke-width="0.6"/>
<line x1="366" y1="262.3" x2="373.4" y2="262.3" stroke="#3e3e3e" stroke-width="0.6"/>
<line x1="367.4" y1="249.3" x2="367.4" y2="265.4" stroke="#222" stroke-width="1.2"/>
<path d="M373.4,250.6 L376,250.6 L379.8,248.4 M373.4,264 L376,264 L379.8,266.2" stroke="#3e3e3e" stroke-width="0.85" fill="none"/>
<line x1="376" y1="250.6" x2="376" y2="264" stroke="#3e3e3e" stroke-width="0.85"/>
<line x1="374.6" y1="250.6" x2="374.6" y2="264" stroke="#3e3e3e" stroke-width="0.6"/>
<line x1="333.5" y1="257.3" x2="649" y2="257.3" stroke="#555" stroke-width="0.6" stroke-dasharray="20 2.5 3.5 2.5"/>
<rect x="496.5" y="215.1" width="19" height="85.1" rx="1" stroke="#3a3a3a" stroke-width="0.9" fill="none"/>
<path d="M516,215.1 L552.5,215.1 Q557.3,215.3 557.4,220 L557.4,225.4 Q557.6,230.3 563.2,230.5 L639,230.5 Q645.7,230.7 645.8,237 L645.8,307.3" stroke="#3a3a3a" stroke-width="0.9" fill="none"/>
<path d="M576.2,230.5 L576.2,225.6 Q576.3,223.7 578.2,223.6 L624.7,223.6 Q626.6,223.7 626.7,225.6 L626.7,230.5" stroke="#3e3e3e" stroke-width="0.85" fill="none"/>
<path d="M574.5,230.5 L574.5,292.4 Q574.3,295.6 571.2,295.8 L558.3,295.8" stroke="#3e3e3e" stroke-width="0.85" fill="none"/>
<path d="M628.3,230.5 L628.3,291.6 Q628.5,294.7 631.6,294.9 L645.8,294.9" stroke="#3e3e3e" stroke-width="0.85" fill="none"/>
<line x1="558.3" y1="230.5" x2="558.3" y2="307" stroke="#3a3a3a" stroke-width="0.9"/>
<line x1="516" y1="300.4" x2="558.6" y2="306.6" stroke="#3a3a3a" stroke-width="0.9"/>
<line x1="525.6" y1="307.4" x2="559" y2="307.4" stroke="#999" stroke-width="0.9"/>
<line x1="559" y1="307.4" x2="686.5" y2="307.4" stroke="#2a2a2a" stroke-width="1.1"/>
<line x1="516" y1="215.1" x2="698.6" y2="215.1" stroke="#999" stroke-width="0.9"/>
<line x1="528.7" y1="215.1" x2="528.7" y2="307.4" stroke="#aaa" stroke-width="1.1"/>
<path d="M528.7,215.1L529.7,221.1L527.7,221.1Z" fill="#1a1a1a"/>
<path d="M528.7,307.4L527.7,301.4L529.7,301.4Z" fill="#1a1a1a"/>
<text transform="translate(526.9,257.1) rotate(-90) scale(0.74,1)" font-size="9.4" text-anchor="middle" fill="#666" font-weight="normal">154</text>
<line x1="609" y1="346.1" x2="698.6" y2="346.1" stroke="#888" stroke-width="0.8"/>
<line x1="694.6" y1="215.1" x2="694.6" y2="346.1" stroke="#888" stroke-width="0.9"/>
<path d="M694.6,215.1L695.6,221.1L693.6,221.1Z" fill="#1a1a1a"/>
<path d="M694.6,346.1L693.6,340.1L695.6,340.1Z" fill="#1a1a1a"/>
<text transform="translate(693.3,280.4) rotate(-90) scale(0.8,1)" font-size="9.2" text-anchor="middle" fill="#5e5e5e" font-weight="normal">219</text>
<line x1="601.6" y1="222" x2="601.6" y2="375" stroke="#555" stroke-width="0.6" stroke-dasharray="20 2.5 3.5 2.5"/>
<line x1="584.7" y1="309.5" x2="672.5" y2="309.5" stroke="#3e3e3e" stroke-width="0.7"/>
<path d="M584.7,307 L584.7,309.5 M618.1,307 L618.1,309.5" stroke="#3e3e3e" stroke-width="0.85" fill="none"/>
<path d="M588.3,309.5 L588.3,315.6 M615.3,309.5 L615.3,315.6" stroke="#3e3e3e" stroke-width="0.85" fill="none"/>
<line x1="588.3" y1="315.6" x2="615.3" y2="315.6" stroke="#222" stroke-width="1.2"/>
<path d="M592.6,315.6 L592.6,345.9 L610.9,345.9 L610.9,315.6" stroke="#333" stroke-width="0.9" fill="none"/>
<rect x="599.5" y="317.7" width="4.6" height="26.9" rx="2.3" stroke="#333" stroke-width="0.8" fill="none"/>
<line x1="588.3" y1="293.5" x2="588.3" y2="309.5" stroke="#3e3e3e" stroke-width="0.6"/>
<line x1="615.3" y1="293.5" x2="615.3" y2="309.5" stroke="#3e3e3e" stroke-width="0.6"/>
<line x1="588.3" y1="297.4" x2="615.3" y2="297.4" stroke="#3e3e3e" stroke-width="0.6"/>
<path d="M588.3,297.4L593.8,296.4L593.8,298.4Z" fill="#1a1a1a"/>
<path d="M615.3,297.4L609.8,298.4L609.8,296.4Z" fill="#1a1a1a"/>
<text transform="translate(602,296.4) scale(0.8,1)" font-size="8.6" text-anchor="middle" fill="#5e5e5e" font-weight="normal">ø44.5</text>
<line x1="584.7" y1="309.5" x2="584.7" y2="374.4" stroke="#3e3e3e" stroke-width="0.6"/>
<line x1="618.1" y1="309.5" x2="618.1" y2="374.4" stroke="#3e3e3e" stroke-width="0.6"/>
<line x1="584.7" y1="370.8" x2="618.4" y2="370.8" stroke="#3e3e3e" stroke-width="0.6"/>
<path d="M584.7,370.8L590.2,369.8L590.2,371.8Z" fill="#1a1a1a"/>
<path d="M618.4,370.8L612.9,371.8L612.9,369.8Z" fill="#1a1a1a"/>
<text transform="translate(589.6,369.6) scale(0.78,1)" font-size="8.8" text-anchor="start" fill="#5e5e5e" font-weight="normal">ø55-</text>
<text transform="translate(606.6,362.4) scale(0.75,1)" font-size="5.4" text-anchor="start" fill="#444" font-weight="normal">0</text>
<text transform="translate(606.2,369.8) scale(0.75,1)" font-size="5.4" text-anchor="start" fill="#444" font-weight="normal">0.03</text>
<line x1="547.2" y1="352.4" x2="610.9" y2="352.4" stroke="#3e3e3e" stroke-width="0.6"/>
<path d="M592.6,352.4L598.1,351.4L598.1,353.4Z" fill="#1a1a1a"/>
<path d="M610.9,352.4L605.4,353.4L605.4,351.4Z" fill="#1a1a1a"/>
<line x1="592.6" y1="345.9" x2="592.6" y2="356" stroke="#3e3e3e" stroke-width="0.6"/>
<line x1="610.9" y1="345.9" x2="610.9" y2="356" stroke="#3e3e3e" stroke-width="0.6"/>
<text transform="translate(546.8,350.6) scale(0.78,1)" font-size="8.8" text-anchor="start" fill="#5e5e5e" font-weight="normal">ø30-</text>
<text transform="translate(563,344.4) scale(0.75,1)" font-size="5.4" text-anchor="start" fill="#444" font-weight="normal">0</text>
<text transform="translate(562.8,350.9) scale(0.7,1)" font-size="5.4" text-anchor="start" fill="#444" font-weight="normal">0.013</text>
<line x1="601.3" y1="345.4" x2="631.9" y2="365.8" stroke="#3e3e3e" stroke-width="0.6"/>
<line x1="631.9" y1="365.8" x2="656.7" y2="365.8" stroke="#3e3e3e" stroke-width="0.6"/>
<path d="M601.3,345.4L605.96,347.43L604.96,348.92Z" fill="#1a1a1a"/>
<text transform="translate(644.6,364.3) scale(0.8,1)" font-size="8.2" text-anchor="middle" fill="#5e5e5e" font-weight="normal">M8×20</text>
<line x1="565.2" y1="318.2" x2="577" y2="318.2" stroke="#3e3e3e" stroke-width="0.6"/>
<line x1="577" y1="318.2" x2="587.6" y2="317.6" stroke="#3e3e3e" stroke-width="0.6"/>
<path d="M588.3,317.5L583.85,318.63L583.76,316.84Z" fill="#1a1a1a"/>
<text transform="translate(569.4,316.9) scale(0.72,1)" font-size="9.2" text-anchor="middle" fill="#5e5e5e" font-weight="normal">R2</text>
<text x="516.9" y="330.9" font-size="7.8" font-weight="bold" fill="#1a1a1a" textLength="23.2" lengthAdjust="spacingAndGlyphs" font-family="&quot;Liberation Sans&quot;, &quot;Noto Sans CJK SC&quot;, sans-serif">安装面</text>
<line x1="517" y1="332.9" x2="544.1" y2="332.9" stroke="#3e3e3e" stroke-width="0.6"/>
<line x1="544.1" y1="332.9" x2="560" y2="308.4" stroke="#3e3e3e" stroke-width="0.6"/>
<path d="M560.4,307.8L558.38,311.9L557.09,310.95Z" fill="#1a1a1a"/>
<line x1="615.3" y1="315.6" x2="658.4" y2="315.6" stroke="#3e3e3e" stroke-width="0.6"/>
<line x1="628.9" y1="315.6" x2="628.9" y2="345.9" stroke="#3e3e3e" stroke-width="0.6"/>
<path d="M628.9,315.6L629.9,321.6L627.9,321.6Z" fill="#1a1a1a"/>
<path d="M628.9,345.9L627.9,339.9L629.9,339.9Z" fill="#1a1a1a"/>
<text transform="translate(627.5,330.4) rotate(-90) scale(0.9,1)" font-size="8.6" text-anchor="middle" fill="#5e5e5e" font-weight="normal">50</text>
<line x1="641.8" y1="307" x2="641.8" y2="345.9" stroke="#3e3e3e" stroke-width="0.6"/>
<path d="M641.8,307L642.8,313L640.8,313Z" fill="#1a1a1a"/>
<path d="M641.8,345.9L640.8,339.9L642.8,339.9Z" fill="#1a1a1a"/>
<text transform="translate(640.4,330.4) rotate(-90) scale(0.9,1)" font-size="8.6" text-anchor="middle" fill="#5e5e5e" font-weight="normal">65</text>
<line x1="655.4" y1="295.5" x2="655.4" y2="321.4" stroke="#3e3e3e" stroke-width="0.6"/>
<path d="M655.4,307L654.5,302L656.3,302Z" fill="#1a1a1a"/>
<path d="M655.4,315.6L656.3,320.6L654.5,320.6Z" fill="#1a1a1a"/>
<text transform="translate(654.4,326.8) rotate(-90) scale(0.9,1)" font-size="8.6" text-anchor="middle" fill="#5e5e5e" font-weight="normal">15</text>
<rect x="647.2" y="322.6" width="8" height="8.4" rx="0" stroke="#888" stroke-width="0.5" fill="none"/>
<line x1="669.5" y1="296.6" x2="669.5" y2="327.2" stroke="#3e3e3e" stroke-width="0.6"/>
<path d="M669.5,307L668.6,302L670.4,302Z" fill="#1a1a1a"/>
<path d="M669.5,309.5L670.4,314.5L668.6,314.5Z" fill="#1a1a1a"/>
<text transform="translate(668.6,324.8) rotate(-90) scale(0.8,1)" font-size="8.4" text-anchor="middle" fill="#5e5e5e" font-weight="normal">3</text>
<line x1="662" y1="327.2" x2="669.5" y2="327.2" stroke="#3e3e3e" stroke-width="0.5"/>
<line x1="646" y1="294.9" x2="686.5" y2="294.9" stroke="#3e3e3e" stroke-width="0.6"/>
<line x1="682.7" y1="285" x2="682.7" y2="317.3" stroke="#3e3e3e" stroke-width="0.6"/>
<path d="M682.7,294.9L681.8,289.9L683.6,289.9Z" fill="#1a1a1a"/>
<path d="M682.7,307L683.6,312L681.8,312Z" fill="#1a1a1a"/>
<text transform="translate(681.2,302.4) rotate(-90) scale(0.9,1)" font-size="8.6" text-anchor="middle" fill="#5e5e5e" font-weight="normal">20</text>
<text x="20.5" y="501.7" font-size="19" font-weight="bold" fill="#d8232f" textLength="156.8" lengthAdjust="spacingAndGlyphs" stroke="#d8232f" stroke-width="0.35">SG 1500 RC 168</text>
<text x="21.3" y="526.6" font-size="18" font-weight="bold" fill="#d8232f" stroke="#d8232f" stroke-width="0.3" textLength="107.4" lengthAdjust="spacingAndGlyphs" font-family="&quot;Liberation Sans&quot;, &quot;Noto Sans CJK SC&quot;, sans-serif">直角中空标准</text>
<text x="21" y="550.4" font-size="18" font-weight="bold" fill="#d8232f" stroke="#d8232f" stroke-width="0.3" textLength="52.4" lengthAdjust="spacingAndGlyphs" font-family="&quot;Liberation Sans&quot;, &quot;Noto Sans CJK SC&quot;, sans-serif">减速比</text>
<text x="80.2" y="550.6" font-size="19" font-weight="bold" fill="#d8232f" textLength="95.2" lengthAdjust="spacingAndGlyphs" stroke="#d8232f" stroke-width="0.35">(1:25−60)</text>
<line x1="325.4" y1="504.5" x2="325.4" y2="564" stroke="#555" stroke-width="0.7"/>
<line x1="638.4" y1="504.5" x2="638.4" y2="546.4" stroke="#555" stroke-width="0.7"/>
<line x1="325.4" y1="508.4" x2="638.4" y2="508.4" stroke="#aaa" stroke-width="1"/>
<path d="M325.4,508.4L331.4,507.4L331.4,509.4Z" fill="#111"/>
<path d="M638.4,508.4L632.4,509.4L632.4,507.4Z" fill="#111"/>
<text transform="translate(481,507.2) scale(0.8,1)" font-size="8.7" text-anchor="middle" fill="#5e5e5e" font-weight="normal">534</text>
<line x1="303" y1="550.5" x2="333" y2="550.5" stroke="#3e3e3e" stroke-width="0.6"/>
<line x1="303" y1="640.6" x2="333" y2="640.6" stroke="#3e3e3e" stroke-width="0.6"/>
<line x1="307" y1="550.5" x2="307" y2="640.6" stroke="#909090" stroke-width="0.9"/>
<path d="M307,550.5L308,556.5L306,556.5Z" fill="#1a1a1a"/>
<path d="M307,640.6L306,634.6L308,634.6Z" fill="#1a1a1a"/>
<text transform="translate(305.6,595.4) rotate(-90) scale(0.8,1)" font-size="8.7" text-anchor="middle" fill="#5e5e5e" font-weight="normal">ø155</text>
<path d="M347.4,550.5 L334,550.5 Q328,551 327.3,557 L326.6,562 L326.6,629 L327.3,634 Q328,640 334,640.6 L347.4,640.6" stroke="#3e3e3e" stroke-width="0.85" fill="none"/>
<path d="M326.6,560.5 Q325.4,562 325.4,566 L325.4,625 Q325.4,629 326.6,630.5" stroke="#3e3e3e" stroke-width="0.6" fill="none"/>
<line x1="347.4" y1="550.5" x2="347.4" y2="640.6" stroke="#3e3e3e" stroke-width="0.85"/>
<line x1="349.6" y1="550.5" x2="349.6" y2="640.6" stroke="#3e3e3e" stroke-width="0.85"/>
<path d="M347.4,550.5 L364,550.5 M347.4,640.6 L364,640.6" stroke="#3e3e3e" stroke-width="0.85" fill="none"/>
<line x1="364" y1="550.5" x2="364" y2="641.6" stroke="#333" stroke-width="0.9"/>
<line x1="364" y1="555.4" x2="478.4" y2="555.4" stroke="#6a6a6a" stroke-width="0.9"/>
<line x1="364" y1="573.7" x2="478.4" y2="573.7" stroke="#6a6a6a" stroke-width="0.9"/>
<line x1="364" y1="605.1" x2="478.4" y2="605.1" stroke="#6a6a6a" stroke-width="0.9"/>
<line x1="364" y1="629.1" x2="478.4" y2="629.1" stroke="#6a6a6a" stroke-width="0.9"/>
<line x1="364" y1="560.9" x2="478.4" y2="560.9" stroke="#999" stroke-width="0.9"/>
<line x1="364" y1="581.9" x2="478.4" y2="581.9" stroke="#999" stroke-width="0.9"/>
<line x1="364" y1="598.8" x2="478.4" y2="598.8" stroke="#999" stroke-width="0.9"/>
<line x1="364" y1="567.4" x2="478.4" y2="567.4" stroke="#333" stroke-width="0.9"/>
<line x1="364" y1="592.1" x2="478.4" y2="592.1" stroke="#333" stroke-width="0.9"/>
<line x1="364" y1="614.3" x2="478.4" y2="614.3" stroke="#333" stroke-width="0.9"/>
<line x1="364" y1="621.4" x2="478.4" y2="621.4" stroke="#333" stroke-width="0.9"/>
<line x1="364" y1="635.7" x2="478.4" y2="635.7" stroke="#333" stroke-width="0.9"/>
<rect x="364.3" y="516.2" width="48.5" height="35" rx="1.5" stroke="#3e3e3e" stroke-width="0.85" fill="none"/>
<line x1="364.3" y1="540.2" x2="412.8" y2="540.2" stroke="#3e3e3e" stroke-width="0.85"/>
<line x1="372.7" y1="516.2" x2="372.7" y2="533" stroke="#3e3e3e" stroke-width="0.85"/>
<line x1="404.8" y1="516.2" x2="404.8" y2="533" stroke="#3e3e3e" stroke-width="0.85"/>
<line x1="364.3" y1="533" x2="372.7" y2="533" stroke="#3e3e3e" stroke-width="0.85"/>
<line x1="404.8" y1="533" x2="412.8" y2="533" stroke="#3e3e3e" stroke-width="0.85"/>
<rect x="365.4" y="530" width="6.4" height="2.8" rx="0" stroke="#333" stroke-width="0.6" fill="#444"/>
<rect x="405.8" y="530" width="6" height="2.8" rx="0" stroke="#333" stroke-width="0.6" fill="#444"/>
<path d="M369.2,551.2 L369.2,555.3 L408,555.3 L408,551.2" stroke="#3e3e3e" stroke-width="0.85" fill="none"/>
<line x1="369.2" y1="554.4" x2="408" y2="554.4" stroke="#3e3e3e" stroke-width="0.6"/>
<path d="M352.1,520.2 Q346.3,521 346.3,527.2 Q346.3,533.4 352.1,534.2" stroke="#3e3e3e" stroke-width="0.85" fill="none"/>
<rect x="352.1" y="519.8" width="5.8" height="14.8" rx="0.8" stroke="#333" stroke-width="0.9" fill="none"/>
<line x1="352.1" y1="522.6" x2="357.9" y2="522.6" stroke="#3e3e3e" stroke-width="0.6"/>
<line x1="352.1" y1="525.6" x2="357.9" y2="525.6" stroke="#3e3e3e" stroke-width="0.6"/>
<line x1="352.1" y1="528.6" x2="357.9" y2="528.6" stroke="#3e3e3e" stroke-width="0.6"/>
<line x1="352.1" y1="531.8" x2="357.9" y2="531.8" stroke="#3e3e3e" stroke-width="0.6"/>
<line x1="353.4" y1="519.8" x2="353.4" y2="534.6" stroke="#222" stroke-width="1.2"/>
<path d="M357.9,521.4 L360.6,521.4 L364.3,519 M357.9,533 L360.6,533 L364.3,535.4" stroke="#3e3e3e" stroke-width="0.85" fill="none"/>
<line x1="360.6" y1="521.4" x2="360.6" y2="533" stroke="#3e3e3e" stroke-width="0.85"/>
<line x1="359.2" y1="521.4" x2="359.2" y2="533" stroke="#3e3e3e" stroke-width="0.6"/>
<line x1="322" y1="595.7" x2="644" y2="595.7" stroke="#999" stroke-width="1" stroke-dasharray="9 2.5 2.5 2.5"/>
<rect x="478.6" y="547.2" width="15.7" height="96.9" rx="1" stroke="#3e3e3e" stroke-width="0.85" fill="none"/>
<line x1="494.3" y1="547.2" x2="539.5" y2="547.2" stroke="#3e3e3e" stroke-width="0.85"/>
<line x1="494.3" y1="644.1" x2="539.5" y2="644.1" stroke="#3e3e3e" stroke-width="0.85"/>
<path d="M494.3,556.2 Q501,558.3 508,558.6 L539.5,558.6" stroke="#3e3e3e" stroke-width="0.85" fill="none"/>
<path d="M494.3,634.9 Q501,632.8 508,632.5 L539.5,632.5" stroke="#3e3e3e" stroke-width="0.85" fill="none"/>
<path d="M494.3,587.6 Q499,584.8 505,584.5 L539.5,584.5" stroke="#3e3e3e" stroke-width="0.85" fill="none"/>
<line x1="494.3" y1="587.6" x2="505" y2="587.3" stroke="#3e3e3e" stroke-width="0.6"/>
<line x1="505" y1="587.3" x2="539.5" y2="587.3" stroke="#3e3e3e" stroke-width="0.6"/>
<path d="M494.3,603.8 Q499,606.6 505,606.9 L539.5,606.9" stroke="#3e3e3e" stroke-width="0.85" fill="none"/>
<line x1="494.3" y1="603.8" x2="505" y2="604.1" stroke="#3e3e3e" stroke-width="0.6"/>
<line x1="505" y1="604.1" x2="539.5" y2="604.1" stroke="#3e3e3e" stroke-width="0.6"/>
<line x1="494.3" y1="547.2" x2="494.3" y2="644.1" stroke="#333" stroke-width="0.9"/>
<rect x="539.5" y="546.4" width="98.9" height="99.2" rx="5.7" stroke="#3e3e3e" stroke-width="0.85" fill="none"/>
<path d="M559.4,550.2 L619.1,550.2 C628,565 635.2,581 635.2,595.7 C635.2,610.4 628,627.4 619.1,642.2 L559.4,642.2 C550.5,627.4 543.3,610.4 543.3,595.7 C543.3,581 550.5,565 559.4,550.2 Z" stroke="#333" stroke-width="1" fill="none"/>
<path d="M572.1,550.2 L572.1,557 Q571.9,562.4 566.5,562.6 L553,562.6" stroke="#3e3e3e" stroke-width="0.85" fill="none"/>
<path d="M606.2,550.2 L606.2,557 Q606.4,562.4 611.8,562.6 L625.5,562.6" stroke="#3e3e3e" stroke-width="0.85" fill="none"/>
<path d="M572.1,642.2 L572.1,635.4 Q571.9,630 566.5,629.8 L553,629.8" stroke="#3e3e3e" stroke-width="0.85" fill="none"/>
<path d="M606.2,642.2 L606.2,635.4 Q606.4,630 611.8,629.8 L625.5,629.8" stroke="#3e3e3e" stroke-width="0.85" fill="none"/>
<circle cx="563.7" cy="555.4" r="2.6" stroke="#222" stroke-width="1.2" fill="none"/>
<circle cx="614.7" cy="555.4" r="2.6" stroke="#222" stroke-width="1.2" fill="none"/>
<circle cx="563.7" cy="636.6" r="2.6" stroke="#222" stroke-width="1.2" fill="none"/>
<circle cx="614.7" cy="636.6" r="2.6" stroke="#222" stroke-width="1.2" fill="none"/>
<circle cx="548.4" cy="555" r="3.6" stroke="#333" stroke-width="0.8" fill="none"/>
<path d="M543.21,559.38 A58.3,58.3 0 0 1 553.38,549.21" stroke="#333" stroke-width="0.7" fill="none"/>
<circle cx="631" cy="555" r="3.6" stroke="#333" stroke-width="0.8" fill="none"/>
<path d="M626.02,549.21 A58.3,58.3 0 0 1 636.19,559.38" stroke="#333" stroke-width="0.7" fill="none"/>
<circle cx="548.4" cy="636.9" r="3.6" stroke="#333" stroke-width="0.8" fill="none"/>
<path d="M553.38,642.19 A58.3,58.3 0 0 1 543.21,632.02" stroke="#333" stroke-width="0.7" fill="none"/>
<circle cx="631" cy="636.9" r="3.6" stroke="#333" stroke-width="0.8" fill="none"/>
<path d="M636.19,632.02 A58.3,58.3 0 0 1 626.02,642.19" stroke="#333" stroke-width="0.7" fill="none"/>
<circle cx="589.7" cy="595.7" r="16.1" stroke="#333" stroke-width="0.9" fill="none"/>
<circle cx="589.7" cy="595.7" r="14" stroke="#3e3e3e" stroke-width="0.8" fill="none"/>
<circle cx="589.7" cy="595.7" r="9.2" stroke="#333" stroke-width="0.9" fill="none"/>
<line x1="587.8" y1="536.5" x2="587.8" y2="586.6" stroke="#3e3e3e" stroke-width="0.7"/>
<line x1="591.6" y1="536.5" x2="591.6" y2="586.6" stroke="#3e3e3e" stroke-width="0.7"/>
<line x1="587.8" y1="586.8" x2="591.6" y2="586.8" stroke="#333" stroke-width="1"/>
<line x1="559.4" y1="539.4" x2="602" y2="539.4" stroke="#3e3e3e" stroke-width="0.6"/>
<path d="M587.8,539.4L582.8,540.3L582.8,538.5Z" fill="#1a1a1a"/>
<path d="M591.6,539.4L596.6,538.5L596.6,540.3Z" fill="#1a1a1a"/>
<text transform="translate(561,537.9) scale(0.75,1)" font-size="8" text-anchor="middle" fill="#555" font-weight="normal">8</text>
<text transform="translate(564.1,531.9) scale(0.9,1)" font-size="5" text-anchor="start" fill="#444" font-weight="normal">+0.04</text>
<text transform="translate(566.4,537.4) scale(0.9,1)" font-size="5" text-anchor="start" fill="#444" font-weight="normal">0</text>
<line x1="589.7" y1="537" x2="589.7" y2="649" stroke="#555" stroke-width="0.6" stroke-dasharray="20 2.5 3.5 2.5"/>
<line x1="525.8" y1="624.3" x2="668.4" y2="560.3" stroke="#3e3e3e" stroke-width="0.6"/>
<line x1="668.4" y1="560.3" x2="684.5" y2="560.3" stroke="#3e3e3e" stroke-width="0.6"/>
<path d="M643.2,571.7L647.36,568.75L648.17,570.57Z" fill="#1a1a1a"/>
<path d="M536.2,619.7L532.04,622.65L531.23,620.83Z" fill="#1a1a1a"/>
<path d="M639.88,565.43 A58.6,58.6 0 0 1 645.71,578.47" stroke="#555" stroke-width="0.6" fill="none"/>
<path d="M539.52,625.97 A58.6,58.6 0 0 1 533.69,612.93" stroke="#555" stroke-width="0.6" fill="none"/>
<text transform="translate(676.5,559.2) scale(0.8,1)" font-size="8.4" text-anchor="middle" fill="#5e5e5e" font-weight="normal">ø200</text>
<line x1="633.4" y1="553.8" x2="654.2" y2="537.3" stroke="#3e3e3e" stroke-width="0.6"/>
<line x1="654.2" y1="537.3" x2="680.7" y2="537.3" stroke="#3e3e3e" stroke-width="0.6"/>
<path d="M633.2,554L636.23,550.58L637.22,551.83Z" fill="#1a1a1a"/>
<text transform="translate(667.6,536.2) scale(0.85,1)" font-size="8.8" text-anchor="middle" fill="#5e5e5e" font-weight="normal">4-ø11</text>
<text x="656.5" y="547.4" font-size="8" font-weight="bold" fill="#1a1a1a" textLength="16" lengthAdjust="spacingAndGlyphs" font-family="&quot;Liberation Sans&quot;, &quot;Noto Sans CJK SC&quot;, sans-serif">均布</text>
<line x1="539.5" y1="520.5" x2="539.5" y2="546.4" stroke="#3e3e3e" stroke-width="0.6"/>
<line x1="539.5" y1="524.8" x2="638.4" y2="524.8" stroke="#a6a6a6" stroke-width="1"/>
<path d="M539.5,524.8L545.5,523.8L545.5,525.8Z" fill="#1a1a1a"/>
<path d="M638.4,524.8L632.4,525.8L632.4,523.8Z" fill="#1a1a1a"/>
<rect x="575" y="518.4" width="4.6" height="4.8" rx="0.3" stroke="#3e3e3e" stroke-width="0.6" fill="none"/>
<text transform="translate(587.8,523.7) scale(0.8,1)" font-size="8.6" text-anchor="middle" fill="#5e5e5e" font-weight="normal">168</text>
<line x1="560.3" y1="585.3" x2="586.9" y2="585.3" stroke="#3e3e3e" stroke-width="0.6"/>
<line x1="560.3" y1="605.2" x2="577.4" y2="605.2" stroke="#3e3e3e" stroke-width="0.6"/>
<line x1="563.7" y1="585.3" x2="563.7" y2="605.2" stroke="#3e3e3e" stroke-width="0.6"/>
<path d="M563.7,585.3L564.7,591.3L562.7,591.3Z" fill="#1a1a1a"/>
<path d="M563.7,605.2L562.7,599.2L564.7,599.2Z" fill="#1a1a1a"/>
<text transform="translate(561.3,606.4) rotate(-90) scale(0.79,1)" font-size="9.3" text-anchor="start" fill="#555" font-weight="normal">33.3</text>
<text transform="translate(556.2,591) rotate(-90) scale(0.85,1)" font-size="5" text-anchor="start" fill="#444" font-weight="normal">+0.2</text>
<text transform="translate(560.2,591) rotate(-90) scale(0.85,1)" font-size="5" text-anchor="start" fill="#444" font-weight="normal">0</text>
<line x1="808.5" y1="501.4" x2="867.4" y2="501.4" stroke="#3e3e3e" stroke-width="0.6"/>
<line x1="836.2" y1="642.4" x2="867.4" y2="642.4" stroke="#3e3e3e" stroke-width="0.6"/>
<line x1="850.7" y1="501.4" x2="850.7" y2="592.9" stroke="#3e3e3e" stroke-width="0.6"/>
<path d="M850.7,501.4L851.7,507.4L849.7,507.4Z" fill="#1a1a1a"/>
<path d="M850.7,592.9L849.7,586.9L851.7,586.9Z" fill="#1a1a1a"/>
<text transform="translate(849.2,546.8) rotate(-90) scale(0.87,1)" font-size="8.7" text-anchor="middle" fill="#5e5e5e" font-weight="normal">157</text>
<line x1="864.2" y1="501.4" x2="864.2" y2="642.4" stroke="#3e3e3e" stroke-width="0.6"/>
<path d="M864.2,501.4L865.2,507.4L863.2,507.4Z" fill="#1a1a1a"/>
<path d="M864.2,642.4L863.2,636.4L865.2,636.4Z" fill="#1a1a1a"/>
<text transform="translate(862.7,572.2) rotate(-90) scale(0.87,1)" font-size="8.7" text-anchor="middle" fill="#5e5e5e" font-weight="normal">241</text>
<rect x="752" y="501.4" width="56.5" height="35.4" rx="0.5" stroke="#3e3e3e" stroke-width="0.85" fill="none"/>
<line x1="752" y1="527" x2="808.5" y2="527" stroke="#3e3e3e" stroke-width="0.85"/>
<line x1="761.7" y1="501.4" x2="761.7" y2="520.6" stroke="#3e3e3e" stroke-width="0.85"/>
<line x1="798.3" y1="501.4" x2="798.3" y2="520.6" stroke="#3e3e3e" stroke-width="0.85"/>
<line x1="752" y1="520.6" x2="761.7" y2="520.6" stroke="#3e3e3e" stroke-width="0.85"/>
<line x1="798.3" y1="520.6" x2="808.5" y2="520.6" stroke="#3e3e3e" stroke-width="0.85"/>
<rect x="753.4" y="517.6" width="7" height="2.8" rx="0" stroke="#333" stroke-width="0.6" fill="#444"/>
<rect x="799.6" y="517.6" width="7.2" height="2.8" rx="0" stroke="#333" stroke-width="0.6" fill="#444"/>
<path d="M757.2,536.8 L757.2,543.6 M760,536.8 L760,543.6 M802.9,536.8 L802.9,543.6 M800,536.8 L800,543.6" stroke="#3e3e3e" stroke-width="0.85" fill="none"/>
<circle cx="780.5" cy="512.9" r="11" stroke="#3e3e3e" stroke-width="0.8" fill="none"/>
<polygon points="789.5,512.9 785,520.69 776,520.69 771.5,512.9 776,505.11 785,505.11" fill="none" stroke="#3e3e3e" stroke-width="0.7"/>
<circle cx="780.5" cy="512.9" r="6.6" stroke="#333" stroke-width="0.9" fill="none"/>
<circle cx="780.5" cy="512.9" r="5" stroke="#3e3e3e" stroke-width="0.7" fill="none"/>
<circle cx="780.5" cy="512.9" r="3.4" stroke="#3e3e3e" stroke-width="0.7" fill="none"/>
<path d="M750,543.6 L836.2,543.6 L836.2,642.4 L750,642.4 Q746.2,642 746.2,638.6 M746.2,547.2 Q746.4,543.9 750,543.6" stroke="#3e3e3e" stroke-width="0.85" fill="none"/>
<path d="M835.5,576.4 L837.8,576.4 L837.8,609.4 L835.5,609.4" stroke="#333" stroke-width="0.8" fill="none"/>
<line x1="836.7" y1="576.4" x2="836.7" y2="609.4" stroke="#3e3e3e" stroke-width="0.6"/>
<path d="M828.3,549 Q833,549.5 833.2,553.5 L833.2,560.6 Q833,563 829,563" stroke="#3e3e3e" stroke-width="0.7" fill="none"/>
<path d="M829,579.2 Q833,579.4 833.2,582 L833.2,604 Q833,606.4 829,606.6" stroke="#3e3e3e" stroke-width="0.7" fill="none"/>
<path d="M829,622 Q833,622.2 833.2,625 L833.2,633 Q833,637 828.3,637.4" stroke="#3e3e3e" stroke-width="0.7" fill="none"/>
<rect x="731.2" y="547.2" width="97.1" height="91.4" rx="5" stroke="#3e3e3e" stroke-width="0.85" fill="none"/>
<circle cx="780.5" cy="592.9" r="45.4" stroke="#333" stroke-width="0.9" fill="none"/>
<circle cx="780.5" cy="592.9" r="42.5" stroke="#3e3e3e" stroke-width="0.8" fill="none"/>
<circle cx="780.5" cy="592.9" r="34.6" stroke="#333" stroke-width="0.9" fill="none"/>
<circle cx="780.5" cy="592.9" r="31.9" stroke="#3e3e3e" stroke-width="0.7" fill="none"/>
<rect x="767.27" y="570.38" width="3.2" height="3.2" rx="0" stroke="#606060" stroke-width="0.8" fill="none"/>
<rect x="771.92" y="570.38" width="3.2" height="3.2" rx="0" stroke="#606060" stroke-width="0.8" fill="none"/>
<rect x="776.57" y="570.38" width="3.2" height="3.2" rx="0" stroke="#606060" stroke-width="0.8" fill="none"/>
<rect x="781.23" y="570.38" width="3.2" height="3.2" rx="0" stroke="#606060" stroke-width="0.8" fill="none"/>
<rect x="785.88" y="570.38" width="3.2" height="3.2" rx="0" stroke="#606060" stroke-width="0.8" fill="none"/>
<rect x="790.52" y="570.38" width="3.2" height="3.2" rx="0" stroke="#606060" stroke-width="0.8" fill="none"/>
<rect x="762.62" y="575.02" width="3.2" height="3.2" rx="0" stroke="#606060" stroke-width="0.8" fill="none"/>
<rect x="767.27" y="575.02" width="3.2" height="3.2" rx="0" stroke="#606060" stroke-width="0.8" fill="none"/>
<rect x="771.92" y="575.02" width="3.2" height="3.2" rx="0" stroke="#606060" stroke-width="0.8" fill="none"/>
<rect x="776.57" y="575.02" width="3.2" height="3.2" rx="0" stroke="#606060" stroke-width="0.8" fill="none"/>
<rect x="781.23" y="575.02" width="3.2" height="3.2" rx="0" stroke="#606060" stroke-width="0.8" fill="none"/>
<rect x="785.88" y="575.02" width="3.2" height="3.2" rx="0" stroke="#606060" stroke-width="0.8" fill="none"/>
<rect x="790.52" y="575.02" width="3.2" height="3.2" rx="0" stroke="#606060" stroke-width="0.8" fill="none"/>
<rect x="795.17" y="575.02" width="3.2" height="3.2" rx="0" stroke="#606060" stroke-width="0.8" fill="none"/>
<rect x="757.98" y="579.67" width="3.2" height="3.2" rx="0" stroke="#606060" stroke-width="0.8" fill="none"/>
<rect x="762.62" y="579.67" width="3.2" height="3.2" rx="0" stroke="#606060" stroke-width="0.8" fill="none"/>
<rect x="767.27" y="579.67" width="3.2" height="3.2" rx="0" stroke="#606060" stroke-width="0.8" fill="none"/>
<rect x="771.92" y="579.67" width="3.2" height="3.2" rx="0" stroke="#606060" stroke-width="0.8" fill="none"/>
<rect x="776.57" y="579.67" width="3.2" height="3.2" rx="0" stroke="#606060" stroke-width="0.8" fill="none"/>
<rect x="781.23" y="579.67" width="3.2" height="3.2" rx="0" stroke="#606060" stroke-width="0.8" fill="none"/>
<rect x="785.88" y="579.67" width="3.2" height="3.2" rx="0" stroke="#606060" stroke-width="0.8" fill="none"/>
<rect x="790.52" y="579.67" width="3.2" height="3.2" rx="0" stroke="#606060" stroke-width="0.8" fill="none"/>
<rect x="795.17" y="579.67" width="3.2" height="3.2" rx="0" stroke="#606060" stroke-width="0.8" fill="none"/>
<rect x="799.82" y="579.67" width="3.2" height="3.2" rx="0" stroke="#606060" stroke-width="0.8" fill="none"/>
<rect x="757.98" y="584.32" width="3.2" height="3.2" rx="0" stroke="#606060" stroke-width="0.8" fill="none"/>
<rect x="762.62" y="584.32" width="3.2" height="3.2" rx="0" stroke="#606060" stroke-width="0.8" fill="none"/>
<rect x="767.27" y="584.32" width="3.2" height="3.2" rx="0" stroke="#606060" stroke-width="0.8" fill="none"/>
<rect x="771.92" y="584.32" width="3.2" height="3.2" rx="0" stroke="#606060" stroke-width="0.8" fill="none"/>
<rect x="776.57" y="584.32" width="3.2" height="3.2" rx="0" stroke="#606060" stroke-width="0.8" fill="none"/>
<rect x="781.23" y="584.32" width="3.2" height="3.2" rx="0" stroke="#606060" stroke-width="0.8" fill="none"/>
<rect x="785.88" y="584.32" width="3.2" height="3.2" rx="0" stroke="#606060" stroke-width="0.8" fill="none"/>
<rect x="790.52" y="584.32" width="3.2" height="3.2" rx="0" stroke="#606060" stroke-width="0.8" fill="none"/>
<rect x="795.17" y="584.32" width="3.2" height="3.2" rx="0" stroke="#606060" stroke-width="0.8" fill="none"/>
<rect x="799.82" y="584.32" width="3.2" height="3.2" rx="0" stroke="#606060" stroke-width="0.8" fill="none"/>
<rect x="757.98" y="588.97" width="3.2" height="3.2" rx="0" stroke="#606060" stroke-width="0.8" fill="none"/>
<rect x="762.62" y="588.97" width="3.2" height="3.2" rx="0" stroke="#606060" stroke-width="0.8" fill="none"/>
<rect x="767.27" y="588.97" width="3.2" height="3.2" rx="0" stroke="#606060" stroke-width="0.8" fill="none"/>
<rect x="790.52" y="588.97" width="3.2" height="3.2" rx="0" stroke="#606060" stroke-width="0.8" fill="none"/>
<rect x="795.17" y="588.97" width="3.2" height="3.2" rx="0" stroke="#606060" stroke-width="0.8" fill="none"/>
<rect x="799.82" y="588.97" width="3.2" height="3.2" rx="0" stroke="#606060" stroke-width="0.8" fill="none"/>
<rect x="757.98" y="593.62" width="3.2" height="3.2" rx="0" stroke="#606060" stroke-width="0.8" fill="none"/>
<rect x="762.62" y="593.62" width="3.2" height="3.2" rx="0" stroke="#606060" stroke-width="0.8" fill="none"/>
<rect x="767.27" y="593.62" width="3.2" height="3.2" rx="0" stroke="#606060" stroke-width="0.8" fill="none"/>
<rect x="790.52" y="593.62" width="3.2" height="3.2" rx="0" stroke="#606060" stroke-width="0.8" fill="none"/>
<rect x="795.17" y="593.62" width="3.2" height="3.2" rx="0" stroke="#606060" stroke-width="0.8" fill="none"/>
<rect x="799.82" y="593.62" width="3.2" height="3.2" rx="0" stroke="#606060" stroke-width="0.8" fill="none"/>
<rect x="757.98" y="598.27" width="3.2" height="3.2" rx="0" stroke="#606060" stroke-width="0.8" fill="none"/>
<rect x="762.62" y="598.27" width="3.2" height="3.2" rx="0" stroke="#606060" stroke-width="0.8" fill="none"/>
<rect x="767.27" y="598.27" width="3.2" height="3.2" rx="0" stroke="#606060" stroke-width="0.8" fill="none"/>
<rect x="771.92" y="598.27" width="3.2" height="3.2" rx="0" stroke="#606060" stroke-width="0.8" fill="none"/>
<rect x="776.57" y="598.27" width="3.2" height="3.2" rx="0" stroke="#606060" stroke-width="0.8" fill="none"/>
<rect x="781.23" y="598.27" width="3.2" height="3.2" rx="0" stroke="#606060" stroke-width="0.8" fill="none"/>
<rect x="785.88" y="598.27" width="3.2" height="3.2" rx="0" stroke="#606060" stroke-width="0.8" fill="none"/>
<rect x="790.52" y="598.27" width="3.2" height="3.2" rx="0" stroke="#606060" stroke-width="0.8" fill="none"/>
<rect x="795.17" y="598.27" width="3.2" height="3.2" rx="0" stroke="#606060" stroke-width="0.8" fill="none"/>
<rect x="799.82" y="598.27" width="3.2" height="3.2" rx="0" stroke="#606060" stroke-width="0.8" fill="none"/>
<rect x="757.98" y="602.92" width="3.2" height="3.2" rx="0" stroke="#606060" stroke-width="0.8" fill="none"/>
<rect x="762.62" y="602.92" width="3.2" height="3.2" rx="0" stroke="#606060" stroke-width="0.8" fill="none"/>
<rect x="767.27" y="602.92" width="3.2" height="3.2" rx="0" stroke="#606060" stroke-width="0.8" fill="none"/>
<rect x="771.92" y="602.92" width="3.2" height="3.2" rx="0" stroke="#606060" stroke-width="0.8" fill="none"/>
<rect x="776.57" y="602.92" width="3.2" height="3.2" rx="0" stroke="#606060" stroke-width="0.8" fill="none"/>
<rect x="781.23" y="602.92" width="3.2" height="3.2" rx="0" stroke="#606060" stroke-width="0.8" fill="none"/>
<rect x="785.88" y="602.92" width="3.2" height="3.2" rx="0" stroke="#606060" stroke-width="0.8" fill="none"/>
<rect x="790.52" y="602.92" width="3.2" height="3.2" rx="0" stroke="#606060" stroke-width="0.8" fill="none"/>
<rect x="795.17" y="602.92" width="3.2" height="3.2" rx="0" stroke="#606060" stroke-width="0.8" fill="none"/>
<rect x="799.82" y="602.92" width="3.2" height="3.2" rx="0" stroke="#606060" stroke-width="0.8" fill="none"/>
<rect x="762.62" y="607.57" width="3.2" height="3.2" rx="0" stroke="#606060" stroke-width="0.8" fill="none"/>
<rect x="767.27" y="607.57" width="3.2" height="3.2" rx="0" stroke="#606060" stroke-width="0.8" fill="none"/>
<rect x="771.92" y="607.57" width="3.2" height="3.2" rx="0" stroke="#606060" stroke-width="0.8" fill="none"/>
<rect x="776.57" y="607.57" width="3.2" height="3.2" rx="0" stroke="#606060" stroke-width="0.8" fill="none"/>
<rect x="781.23" y="607.57" width="3.2" height="3.2" rx="0" stroke="#606060" stroke-width="0.8" fill="none"/>
<rect x="785.88" y="607.57" width="3.2" height="3.2" rx="0" stroke="#606060" stroke-width="0.8" fill="none"/>
<rect x="790.52" y="607.57" width="3.2" height="3.2" rx="0" stroke="#606060" stroke-width="0.8" fill="none"/>
<rect x="795.17" y="607.57" width="3.2" height="3.2" rx="0" stroke="#606060" stroke-width="0.8" fill="none"/>
<rect x="767.27" y="612.22" width="3.2" height="3.2" rx="0" stroke="#606060" stroke-width="0.8" fill="none"/>
<rect x="771.92" y="612.22" width="3.2" height="3.2" rx="0" stroke="#606060" stroke-width="0.8" fill="none"/>
<rect x="776.57" y="612.22" width="3.2" height="3.2" rx="0" stroke="#606060" stroke-width="0.8" fill="none"/>
<rect x="781.23" y="612.22" width="3.2" height="3.2" rx="0" stroke="#606060" stroke-width="0.8" fill="none"/>
<rect x="785.88" y="612.22" width="3.2" height="3.2" rx="0" stroke="#606060" stroke-width="0.8" fill="none"/>
<rect x="790.52" y="612.22" width="3.2" height="3.2" rx="0" stroke="#606060" stroke-width="0.8" fill="none"/>
<circle cx="780.5" cy="592.9" r="6.1" stroke="#222" stroke-width="1.2" fill="none"/>
<circle cx="780.5" cy="592.9" r="2.2" stroke="#333" stroke-width="0.8" fill="none"/>
<circle cx="780.5" cy="566.9" r="1.5" stroke="#333" stroke-width="0.7" fill="none"/>
<circle cx="780.5" cy="618.9" r="1.5" stroke="#333" stroke-width="0.7" fill="none"/>
<circle cx="754.5" cy="592.9" r="1.5" stroke="#333" stroke-width="0.7" fill="none"/>
<circle cx="806.2" cy="592.9" r="1.5" stroke="#333" stroke-width="0.7" fill="none"/>
<line x1="780.5" y1="498.6" x2="780.5" y2="653.2" stroke="#2a2a2a" stroke-width="0.9" stroke-dasharray="23 3.5 5 3.5"/>
<line x1="719.8" y1="592.9" x2="853.8" y2="592.9" stroke="#444" stroke-width="0.8" stroke-dasharray="24 3.5"/>
<circle cx="739.5" cy="554.6" r="4.3" stroke="#222" stroke-width="1.3" fill="none"/>
<circle cx="739.5" cy="554.6" r="3.2" stroke="#666" stroke-width="0.5" fill="none"/>
<circle cx="739.5" cy="554.6" r="2.1" stroke="#333" stroke-width="0.8" fill="none"/>
<circle cx="818.6" cy="552.2" r="4.3" stroke="#222" stroke-width="1.3" fill="none"/>
<circle cx="818.6" cy="552.2" r="3.2" stroke="#666" stroke-width="0.5" fill="none"/>
<circle cx="818.6" cy="552.2" r="2.1" stroke="#333" stroke-width="0.8" fill="none"/>
<circle cx="742.2" cy="633.5" r="4.3" stroke="#222" stroke-width="1.3" fill="none"/>
<circle cx="742.2" cy="633.5" r="3.2" stroke="#666" stroke-width="0.5" fill="none"/>
<circle cx="742.2" cy="633.5" r="2.1" stroke="#333" stroke-width="0.8" fill="none"/>
<circle cx="821.2" cy="631" r="4.3" stroke="#222" stroke-width="1.3" fill="none"/>
<circle cx="821.2" cy="631" r="3.2" stroke="#666" stroke-width="0.5" fill="none"/>
<circle cx="821.2" cy="631" r="2.1" stroke="#333" stroke-width="0.8" fill="none"/>
<path d="M347.7,676.2 L334,676.2 Q328.6,676.7 328.3,682 L328.1,686 L328.1,757 L328.3,761 Q328.6,766.1 334,766.6 L347.7,766.6" stroke="#3e3e3e" stroke-width="0.85" fill="none"/>
<path d="M328.1,685.6 L325.5,687.4 L325.5,755.6 L328.1,757.4" stroke="#3e3e3e" stroke-width="0.7" fill="none"/>
<rect x="347.7" y="675.3" width="16.4" height="92.4" rx="0.8" stroke="#3e3e3e" stroke-width="0.85" fill="none"/>
<line x1="349.8" y1="675.3" x2="349.8" y2="767.7" stroke="#3e3e3e" stroke-width="0.85"/>
<line x1="364.1" y1="675.3" x2="364.1" y2="767.7" stroke="#333" stroke-width="0.9"/>
<line x1="364.1" y1="683.1" x2="478.4" y2="683.1" stroke="#333" stroke-width="0.9"/>
<line x1="364.1" y1="695.6" x2="478.4" y2="695.6" stroke="#333" stroke-width="0.9"/>
<line x1="364.1" y1="678.4" x2="478.4" y2="678.4" stroke="#8a8a8a" stroke-width="0.9"/>
<line x1="364.1" y1="688.9" x2="478.4" y2="688.9" stroke="#8a8a8a" stroke-width="0.9"/>
<line x1="364.1" y1="747.2" x2="478.4" y2="747.2" stroke="#333" stroke-width="0.9"/>
<line x1="364.1" y1="759.5" x2="478.4" y2="759.5" stroke="#333" stroke-width="0.9"/>
<line x1="364.1" y1="753.4" x2="478.4" y2="753.4" stroke="#8a8a8a" stroke-width="0.9"/>
<line x1="364.1" y1="764.5" x2="478.4" y2="764.5" stroke="#8a8a8a" stroke-width="0.9"/>
<rect x="364.1" y="697.2" width="47.7" height="48.5" rx="1.2" stroke="#3e3e3e" stroke-width="0.85" fill="none"/>
<path d="M371.4,697.2 L371.4,704.6 Q371.3,705.8 370.1,705.8 L364.1,705.8 M404.4,697.2 L404.4,704.6 Q404.5,705.8 405.7,705.8 L411.8,705.8" stroke="#3e3e3e" stroke-width="0.7" fill="none"/>
<path d="M371.4,745.7 L371.4,738.3 Q371.3,737.1 370.1,737.1 L364.1,737.1 M404.4,745.7 L404.4,738.3 Q404.5,737.1 405.7,737.1 L411.8,737.1" stroke="#3e3e3e" stroke-width="0.7" fill="none"/>
<circle cx="367.8" cy="701.5" r="3.1" stroke="#333" stroke-width="0.7" fill="none"/>
<circle cx="367.8" cy="701.5" r="2.3" stroke="#111" stroke-width="0.6" fill="#222"/>
<line x1="366.2" y1="701.5" x2="369.4" y2="701.5" stroke="#888" stroke-width="0.4"/>
<line x1="367.8" y1="699.9" x2="367.8" y2="703.1" stroke="#888" stroke-width="0.4"/>
<circle cx="407.6" cy="701.5" r="3.1" stroke="#333" stroke-width="0.7" fill="none"/>
<circle cx="407.6" cy="701.5" r="2.3" stroke="#111" stroke-width="0.6" fill="#222"/>
<line x1="406" y1="701.5" x2="409.2" y2="701.5" stroke="#888" stroke-width="0.4"/>
<line x1="407.6" y1="699.9" x2="407.6" y2="703.1" stroke="#888" stroke-width="0.4"/>
<circle cx="367.8" cy="741.8" r="3.1" stroke="#333" stroke-width="0.7" fill="none"/>
<circle cx="367.8" cy="741.8" r="2.3" stroke="#111" stroke-width="0.6" fill="#222"/>
<line x1="366.2" y1="741.8" x2="369.4" y2="741.8" stroke="#888" stroke-width="0.4"/>
<line x1="367.8" y1="740.2" x2="367.8" y2="743.4" stroke="#888" stroke-width="0.4"/>
<circle cx="407.6" cy="741.8" r="3.1" stroke="#333" stroke-width="0.7" fill="none"/>
<circle cx="407.6" cy="741.8" r="2.3" stroke="#111" stroke-width="0.6" fill="#222"/>
<line x1="406" y1="741.8" x2="409.2" y2="741.8" stroke="#888" stroke-width="0.4"/>
<line x1="407.6" y1="740.2" x2="407.6" y2="743.4" stroke="#888" stroke-width="0.4"/>
<line x1="411.8" y1="702.7" x2="478.4" y2="702.7" stroke="#3e3e3e" stroke-width="0.85"/>
<line x1="411.8" y1="740.7" x2="478.4" y2="740.7" stroke="#3e3e3e" stroke-width="0.85"/>
<path d="M351,713.8 Q345.5,714.6 345.5,721.5 Q345.5,728.4 351,729.3" stroke="#3e3e3e" stroke-width="0.85" fill="none"/>
<rect x="351" y="713.5" width="6.6" height="16.1" rx="0.8" stroke="#333" stroke-width="0.9" fill="none"/>
<line x1="351" y1="716.4" x2="357.6" y2="716.4" stroke="#3e3e3e" stroke-width="0.6"/>
<line x1="351" y1="719.6" x2="357.6" y2="719.6" stroke="#3e3e3e" stroke-width="0.6"/>
<line x1="351" y1="723" x2="357.6" y2="723" stroke="#3e3e3e" stroke-width="0.6"/>
<line x1="351" y1="726.4" x2="357.6" y2="726.4" stroke="#3e3e3e" stroke-width="0.6"/>
<line x1="352.4" y1="713.5" x2="352.4" y2="729.6" stroke="#222" stroke-width="1.2"/>
<path d="M357.6,714.8 L360.4,714.8 L364.1,712.6 M357.6,728.2 L360.4,728.2 L364.1,730.4" stroke="#3e3e3e" stroke-width="0.85" fill="none"/>
<line x1="360.4" y1="714.8" x2="360.4" y2="728.2" stroke="#3e3e3e" stroke-width="0.85"/>
<line x1="359" y1="714.8" x2="359" y2="728.2" stroke="#3e3e3e" stroke-width="0.6"/>
<line x1="318.6" y1="721.5" x2="672" y2="721.5" stroke="#a8a8a8" stroke-width="1" stroke-dasharray="30 9"/>
<rect x="478.4" y="672.9" width="15.9" height="97.6" rx="1" stroke="#3e3e3e" stroke-width="0.85" fill="none"/>
<path d="M494.3,673.2 L536.5,673.2 Q539.6,673.8 541,679 Q543,687 549.3,687.9 L636.4,687.9 Q639.7,688.2 639.7,692 L639.7,777.4" stroke="#3e3e3e" stroke-width="0.85" fill="none"/>
<path d="M561.6,687.9 L561.6,761.8 Q561.4,764.5 558.6,764.6 L539.2,764.6 L539.2,775.6" stroke="#3e3e3e" stroke-width="0.85" fill="none"/>
<path d="M619.5,687.9 L619.5,761.8 Q619.7,764.5 622.5,764.6 L639.7,764.6" stroke="#3e3e3e" stroke-width="0.85" fill="none"/>
<path d="M494.3,770.5 L539.2,775.6" stroke="#3e3e3e" stroke-width="0.85" fill="none"/>
<line x1="520" y1="775.6" x2="642" y2="775.6" stroke="#3e3e3e" stroke-width="0.7"/>
<line x1="515" y1="777.4" x2="726.8" y2="777.4" stroke="#222" stroke-width="1"/>
<line x1="494.3" y1="673.2" x2="726.8" y2="673.2" stroke="#3e3e3e" stroke-width="0.6"/>
<line x1="520.5" y1="673.2" x2="520.5" y2="775.9" stroke="#3e3e3e" stroke-width="0.6"/>
<path d="M520.5,673.2L521.5,679.2L519.5,679.2Z" fill="#1a1a1a"/>
<path d="M520.5,775.9L519.5,769.9L521.5,769.9Z" fill="#1a1a1a"/>
<text transform="translate(519,729.6) rotate(-90) scale(0.87,1)" font-size="8.5" text-anchor="middle" fill="#5e5e5e" font-weight="normal">176</text>
<text x="505.3" y="799.5" font-size="7.8" font-weight="bold" fill="#1a1a1a" textLength="23.2" lengthAdjust="spacingAndGlyphs" font-family="&quot;Liberation Sans&quot;, &quot;Noto Sans CJK SC&quot;, sans-serif">安装面</text>
<line x1="501.6" y1="801.7" x2="531.4" y2="801.7" stroke="#3e3e3e" stroke-width="0.6"/>
<line x1="531.4" y1="801.7" x2="546.6" y2="778.8" stroke="#3e3e3e" stroke-width="0.6"/>
<path d="M547,778.2L545.18,782.39L543.84,781.51Z" fill="#1a1a1a"/>
<path d="M570,687.9 L570,683.6 Q570.2,682 572,682 L606.5,682 Q608.3,682 608.5,683.6 L608.5,687.9" stroke="#3e3e3e" stroke-width="0.85" fill="none"/>
<line x1="570" y1="685.7" x2="608.5" y2="685.7" stroke="#3e3e3e" stroke-width="0.7"/>
<line x1="572.6" y1="687.9" x2="606.1" y2="687.9" stroke="#333" stroke-width="1"/>
<defs><pattern id="h" width="2.3" height="2.3" patternUnits="userSpaceOnUse" patternTransform="rotate(-45)"><rect width="2.3" height="2.3" fill="#fff"/><line x1="0" y1="1.15" x2="2.3" y2="1.15" stroke="#4a4a4a" stroke-width="0.75"/></pattern></defs>
<path d="M575.9,687.9 L580.5,687.9 L580.5,777.4 L575.9,777.4 L575.9,759 L573.1,757.5 L573.1,724.2 L575.9,722.6 Z" fill="url(#h)" stroke="#333" stroke-width="0.7"/>
<path d="M602.5,687.9 L597.9,687.9 L597.9,777.4 L602.5,777.4 L602.5,759 L605.8,757.5 L605.8,724.2 L602.5,722.6 Z" fill="url(#h)" stroke="#333" stroke-width="0.7"/>
<path d="M570,688 Q567.6,730 572.6,772" stroke="#3e3e3e" stroke-width="0.7" fill="none"/>
<path d="M608.5,688 Q610.9,730 606.1,772" stroke="#3e3e3e" stroke-width="0.7" fill="none"/>
<line x1="572.6" y1="687.9" x2="572.6" y2="777.4" stroke="#3e3e3e" stroke-width="0.6"/>
<line x1="606.1" y1="687.9" x2="606.1" y2="777.4" stroke="#3e3e3e" stroke-width="0.6"/>
<rect x="572.6" y="689.6" width="3.3" height="4.4" fill="#555" stroke="#111" stroke-width="0.6"/>
<rect x="602.5" y="689.6" width="3.6" height="4.4" fill="#555" stroke="#111" stroke-width="0.6"/>
<rect x="572.6" y="771.6" width="3.3" height="5.4" fill="#555" stroke="#111" stroke-width="0.6"/>
<rect x="602.5" y="771.6" width="3.6" height="5.4" fill="#555" stroke="#111" stroke-width="0.6"/>
<line x1="578.4" y1="697.4" x2="600.2" y2="697.4" stroke="#222" stroke-width="1.1"/>
<line x1="578.4" y1="709.1" x2="600.2" y2="709.1" stroke="#222" stroke-width="1.1"/>
<line x1="580.5" y1="717.8" x2="597.9" y2="717.8" stroke="#3e3e3e" stroke-width="0.7"/>
<line x1="580.5" y1="751.7" x2="597.9" y2="751.7" stroke="#3e3e3e" stroke-width="0.7"/>
<line x1="589.1" y1="678.3" x2="589.1" y2="792" stroke="#333" stroke-width="0.9" stroke-dasharray="12 2.5 3 2.5"/>
<line x1="553.9" y1="717.8" x2="580.5" y2="717.8" stroke="#3e3e3e" stroke-width="0.6"/>
<line x1="552" y1="751.7" x2="597.9" y2="751.7" stroke="#3e3e3e" stroke-width="0.6"/>
<line x1="556.6" y1="689.4" x2="556.6" y2="717.2" stroke="#3e3e3e" stroke-width="0.6"/>
<path d="M556.6,689.4L557.6,695.4L555.6,695.4Z" fill="#1a1a1a"/>
<path d="M556.6,717.2L555.6,711.2L557.6,711.2Z" fill="#1a1a1a"/>
<text transform="translate(555,703.6) rotate(-90) scale(0.95,1)" font-size="8.5" text-anchor="middle" fill="#5e5e5e" font-weight="normal">48</text>
<line x1="556.6" y1="751.7" x2="556.6" y2="777.4" stroke="#3e3e3e" stroke-width="0.6"/>
<path d="M556.6,751.7L557.6,757.7L555.6,757.7Z" fill="#1a1a1a"/>
<path d="M556.6,777.4L555.6,771.4L557.6,771.4Z" fill="#1a1a1a"/>
<text transform="translate(555,741.6) rotate(-90) scale(0.95,1)" font-size="8.5" text-anchor="middle" fill="#5e5e5e" font-weight="normal">45</text>
<text x="611.3" y="659.5" font-size="7.6" font-weight="bold" fill="#1a1a1a" textLength="22.8" lengthAdjust="spacingAndGlyphs" font-family="&quot;Liberation Sans&quot;, &quot;Noto Sans CJK SC&quot;, sans-serif">防尘盖</text>
<line x1="609.6" y1="661.2" x2="633.6" y2="661.2" stroke="#3e3e3e" stroke-width="0.6"/>
<line x1="609.6" y1="661.2" x2="589.8" y2="679.6" stroke="#3e3e3e" stroke-width="0.6"/>
<path d="M589.6,679.8L592.35,676.15L593.44,677.32Z" fill="#1a1a1a"/>
<text x="642.9" y="662.4" font-size="7.8" font-weight="bold" fill="#1a1a1a" textLength="46.9" lengthAdjust="spacingAndGlyphs" font-family="&quot;Liberation Sans&quot;, &quot;Noto Sans CJK SC&quot;, sans-serif">孔用弹性挡圈</text>
<text transform="translate(692.6,661.8) scale(0.86,1)" font-size="11.8" text-anchor="start" fill="#222" font-weight="normal">S-30</text>
<line x1="641.4" y1="664.1" x2="690.6" y2="664.1" stroke="#3e3e3e" stroke-width="0.6"/>
<line x1="641.4" y1="664.1" x2="600.4" y2="708.2" stroke="#3e3e3e" stroke-width="0.6"/>
<line x1="608.5" y1="689.4" x2="712.6" y2="689.4" stroke="#3e3e3e" stroke-width="0.6"/>
<line x1="602.5" y1="697.6" x2="699.6" y2="697.6" stroke="#3e3e3e" stroke-width="0.6"/>
<line x1="602.5" y1="709.2" x2="688" y2="709.2" stroke="#3e3e3e" stroke-width="0.6"/>
<line x1="669.1" y1="722.4" x2="669.1" y2="777.4" stroke="#3e3e3e" stroke-width="0.6"/>
<path d="M669.1,722.4L670.1,728.4L668.1,728.4Z" fill="#1a1a1a"/>
<path d="M669.1,777.4L668.1,771.4L670.1,771.4Z" fill="#1a1a1a"/>
<text transform="translate(667.6,749.4) rotate(-90) scale(0.87,1)" font-size="8.5" text-anchor="middle" fill="#5e5e5e" font-weight="normal">93.5</text>
<line x1="684.1" y1="709.2" x2="684.1" y2="777.4" stroke="#3e3e3e" stroke-width="0.6"/>
<path d="M684.1,709.2L685.1,715.2L683.1,715.2Z" fill="#1a1a1a"/>
<path d="M684.1,777.4L683.1,771.4L685.1,771.4Z" fill="#1a1a1a"/>
<text transform="translate(682.6,749.4) rotate(-90) scale(0.87,1)" font-size="8.5" text-anchor="middle" fill="#5e5e5e" font-weight="normal">117</text>
<line x1="697" y1="697.6" x2="697" y2="777.4" stroke="#3e3e3e" stroke-width="0.6"/>
<path d="M697,697.6L698,703.6L696,703.6Z" fill="#1a1a1a"/>
<path d="M697,777.4L696,771.4L698,771.4Z" fill="#1a1a1a"/>
<text transform="translate(695.6,739.6) rotate(-90) scale(0.87,1)" font-size="8.5" text-anchor="middle" fill="#5e5e5e" font-weight="normal">138</text>
<line x1="709.5" y1="689.4" x2="709.5" y2="777.4" stroke="#3e3e3e" stroke-width="0.6"/>
<path d="M709.5,689.4L710.5,695.4L708.5,695.4Z" fill="#1a1a1a"/>
<path d="M709.5,777.4L708.5,771.4L710.5,771.4Z" fill="#1a1a1a"/>
<text transform="translate(708,733.8) rotate(-90) scale(0.87,1)" font-size="8.5" text-anchor="middle" fill="#5e5e5e" font-weight="normal">152</text>
<line x1="724.2" y1="673.2" x2="724.2" y2="777.4" stroke="#3e3e3e" stroke-width="0.6"/>
<path d="M724.2,673.2L725.2,679.2L723.2,679.2Z" fill="#1a1a1a"/>
<path d="M724.2,777.4L723.2,771.4L725.2,771.4Z" fill="#1a1a1a"/>
<text transform="translate(722.6,726) rotate(-90) scale(0.87,1)" font-size="8.5" text-anchor="middle" fill="#5e5e5e" font-weight="normal">180</text>
<line x1="616.6" y1="769.2" x2="616.6" y2="787.5" stroke="#3e3e3e" stroke-width="0.6"/>
<path d="M616.6,775.6L615.7,770.6L617.5,770.6Z" fill="#1a1a1a"/>
<path d="M616.6,777.4L617.5,782.4L615.7,782.4Z" fill="#1a1a1a"/>
<text transform="translate(615.4,762.4) rotate(-90) scale(0.8,1)" font-size="8.6" text-anchor="middle" fill="#5e5e5e" font-weight="normal">3</text>
<line x1="642.8" y1="771" x2="642.8" y2="797.6" stroke="#3e3e3e" stroke-width="0.6"/>
<path d="M642.8,775.6L641.9,771.1L643.7,771.1Z" fill="#1a1a1a"/>
<path d="M642.8,777.4L643.7,782.4L641.9,782.4Z" fill="#1a1a1a"/>
<text transform="translate(641.4,795.4) rotate(-90) scale(0.8,1)" font-size="8.2" text-anchor="middle" fill="#5e5e5e" font-weight="normal">4</text>
<line x1="639.7" y1="765.5" x2="656.6" y2="765.5" stroke="#3e3e3e" stroke-width="0.6"/>
<line x1="655.3" y1="754.5" x2="655.3" y2="786.6" stroke="#3e3e3e" stroke-width="0.6"/>
<path d="M655.3,765.5L654.4,760.5L656.2,760.5Z" fill="#1a1a1a"/>
<path d="M655.3,777.4L656.2,782.4L654.4,782.4Z" fill="#1a1a1a"/>
<text transform="translate(653.8,770.6) rotate(-90) scale(0.87,1)" font-size="8.5" text-anchor="middle" fill="#5e5e5e" font-weight="normal">20</text>
<line x1="580.5" y1="777.4" x2="580.5" y2="792" stroke="#3e3e3e" stroke-width="0.6"/>
<line x1="597.9" y1="777.4" x2="597.9" y2="792" stroke="#3e3e3e" stroke-width="0.6"/>
<line x1="580.5" y1="790.6" x2="597.9" y2="790.6" stroke="#3e3e3e" stroke-width="0.6"/>
<path d="M580.5,790.6L586,789.6L586,791.6Z" fill="#1a1a1a"/>
<path d="M597.9,790.6L592.4,791.6L592.4,789.6Z" fill="#1a1a1a"/>
<line x1="572.6" y1="777.4" x2="572.6" y2="801" stroke="#3e3e3e" stroke-width="0.6"/>
<line x1="606.1" y1="777.4" x2="606.1" y2="801" stroke="#3e3e3e" stroke-width="0.6"/>
<line x1="572.6" y1="798.9" x2="606.1" y2="798.9" stroke="#3e3e3e" stroke-width="0.6"/>
<path d="M572.6,798.9L578.1,797.9L578.1,799.9Z" fill="#1a1a1a"/>
<path d="M606.1,798.9L600.6,799.9L600.6,797.9Z" fill="#1a1a1a"/>
<text transform="translate(589,789.4) scale(0.8,1)" font-size="5.2" text-anchor="middle" fill="#333" font-weight="bold">ø30+0.03</text>
<text transform="translate(589,797.9) scale(0.8,1)" font-size="5.2" text-anchor="middle" fill="#333" font-weight="bold">ø55-0.05</text>
</g>
</svg>
</body></html>
